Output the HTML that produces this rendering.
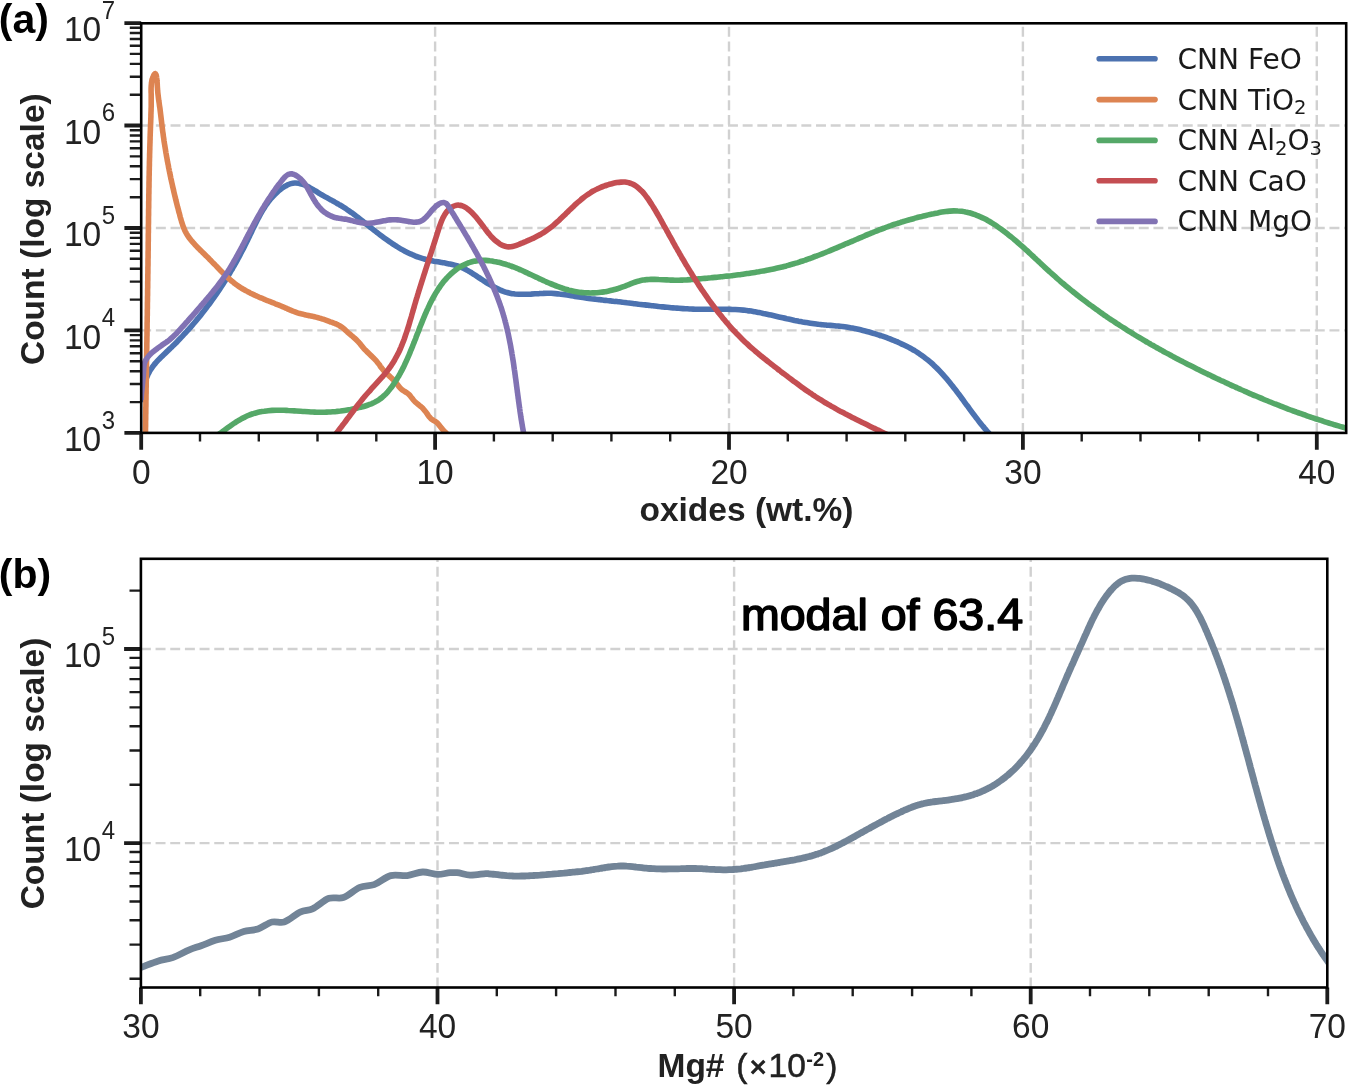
<!DOCTYPE html>
<html lang="en"><head><meta charset="utf-8"><title>Oxide abundance and Mg# histograms</title>
<style>html,body{margin:0;padding:0;background:#fff}svg{display:block}text{font-family:"Liberation Sans",sans-serif;fill:#222}.tk{font-size:33.5px}.sup{font-size:24px}.lab{font-size:33.5px;font-weight:bold}.leg{font-family:"DejaVu Sans","Liberation Sans",sans-serif;font-size:28.05px;fill:#1a1a1a}.pl{font-size:41px;font-weight:bold;fill:#000}</style></head><body>
<svg width="1350" height="1086" viewBox="0 0 1350 1086">
<rect width="1350" height="1086" fill="#fff"/>
<defs><clipPath id="ca"><rect x="141.2" y="23.3" width="1205" height="409.6"/></clipPath>
<clipPath id="cb"><rect x="140.9" y="558.8" width="1186.4" height="428.7"/></clipPath></defs>
<path d="M435.1 432.9 V23.3M729.0 432.9 V23.3M1022.9 432.9 V23.3M1316.8 432.9 V23.3M141.2 330.4 H1346.2M141.2 228.0 H1346.2M141.2 125.5 H1346.2" fill="none" stroke="#d1d1d1" stroke-width="2.4" stroke-dasharray="9.95 4.72"/>
<g clip-path="url(#ca)" fill="none" stroke-width="5.6" stroke-linejoin="round" stroke-linecap="butt">
<path d="M141.1 401.9C141.4 400.7 141.6 399.4 141.9 398.1C142.1 396.9 142.4 395.5 142.6 394.2C142.9 392.9 143.1 391.6 143.4 390.2C143.6 388.9 143.9 387.5 144.2 386.2C144.5 384.9 144.8 383.5 145.2 382.2C145.6 380.9 146.0 379.6 146.4 378.3C146.9 377.1 147.4 375.8 147.9 374.6C148.5 373.4 149.1 372.2 149.7 371.1C150.4 370.0 151.1 368.9 151.9 367.8C152.6 366.7 153.4 365.7 154.2 364.6C155.1 363.6 155.9 362.6 156.8 361.6C157.7 360.6 158.6 359.7 159.6 358.7C160.5 357.8 161.5 356.8 162.4 355.9C163.4 354.9 164.4 354.0 165.4 353.1C166.4 352.2 167.4 351.2 168.3 350.3C169.3 349.4 170.3 348.4 171.3 347.5C172.2 346.6 173.2 345.6 174.2 344.7C175.1 343.7 176.1 342.8 177.0 341.8C178.0 340.9 178.9 339.9 179.8 338.9C180.8 338.0 181.7 337.0 182.6 336.0C183.5 335.0 184.4 334.0 185.3 333.1C186.3 332.1 187.2 331.1 188.0 330.1C188.9 329.1 189.8 328.1 190.7 327.1C191.6 326.1 192.5 325.0 193.3 324.0C194.2 323.0 195.1 322.0 195.9 321.0C196.8 319.9 197.6 318.9 198.5 317.9C199.3 316.8 200.2 315.8 201.0 314.8C201.8 313.7 202.6 312.7 203.5 311.6C204.3 310.6 205.1 309.5 205.9 308.4C206.7 307.4 207.5 306.3 208.3 305.2C209.1 304.2 209.9 303.1 210.7 302.0C211.5 300.9 212.3 299.9 213.0 298.8C213.8 297.7 214.6 296.6 215.3 295.5C216.1 294.4 216.9 293.3 217.6 292.2C218.4 291.1 219.1 290.0 219.8 288.9C220.6 287.7 221.3 286.6 222.0 285.5C222.8 284.4 223.5 283.3 224.2 282.1C224.9 281.0 225.7 279.9 226.4 278.7C227.1 277.6 227.8 276.4 228.5 275.3C229.2 274.1 229.9 273.0 230.5 271.8C231.2 270.7 231.9 269.5 232.6 268.4C233.3 267.2 233.9 266.0 234.6 264.9C235.3 263.7 235.9 262.5 236.6 261.3C237.2 260.1 237.9 259.0 238.5 257.8C239.2 256.6 239.8 255.4 240.4 254.2C241.1 253.0 241.7 251.8 242.3 250.6C243.0 249.4 243.6 248.2 244.2 247.0C244.8 245.8 245.4 244.6 246.0 243.3C246.6 242.1 247.2 240.9 247.8 239.7C248.4 238.5 249.0 237.2 249.6 236.0C250.2 234.8 250.8 233.5 251.4 232.3C251.9 231.1 252.5 229.8 253.1 228.6C253.7 227.4 254.3 226.1 254.9 224.9C255.5 223.7 256.1 222.5 256.7 221.3C257.3 220.1 257.9 218.9 258.6 217.7C259.2 216.5 259.8 215.3 260.5 214.1C261.1 212.9 261.8 211.8 262.5 210.6C263.2 209.5 263.9 208.4 264.6 207.3C265.3 206.1 266.1 205.0 266.8 204.0C267.6 202.9 268.4 201.8 269.2 200.8C270.0 199.8 270.8 198.7 271.7 197.8C272.6 196.8 273.5 195.8 274.4 194.9C275.3 193.9 276.3 193.0 277.3 192.1C278.3 191.2 279.3 190.4 280.3 189.6C281.4 188.7 282.5 187.9 283.6 187.2C284.8 186.5 285.9 185.7 287.2 185.1C288.4 184.5 289.6 184.0 290.9 183.6C292.1 183.3 293.4 183.1 294.7 183.0C296.1 182.9 297.4 183.1 298.7 183.3C300.1 183.6 301.4 184.0 302.7 184.4C304.0 184.8 305.3 185.4 306.6 186.0C307.8 186.6 309.0 187.2 310.2 187.9C311.4 188.5 312.6 189.2 313.7 189.9C314.9 190.6 316.0 191.3 317.2 192.0C318.3 192.8 319.4 193.5 320.6 194.2C321.8 194.8 322.9 195.5 324.1 196.2C325.3 196.8 326.4 197.5 327.6 198.1C328.8 198.8 330.0 199.4 331.1 200.1C332.3 200.7 333.5 201.4 334.7 202.0C335.8 202.7 337.0 203.3 338.2 204.0C339.3 204.7 340.5 205.3 341.6 206.0C342.8 206.7 343.9 207.4 345.0 208.1C346.1 208.9 347.2 209.6 348.3 210.4C349.4 211.1 350.5 211.9 351.6 212.7C352.7 213.4 353.7 214.2 354.8 215.0C355.9 215.8 356.9 216.6 358.0 217.5C359.0 218.3 360.1 219.1 361.1 219.9C362.2 220.8 363.2 221.6 364.3 222.4C365.3 223.3 366.4 224.1 367.4 225.0C368.5 225.8 369.5 226.6 370.6 227.5C371.6 228.3 372.7 229.2 373.8 230.0C374.8 230.8 375.9 231.7 377.0 232.5C378.0 233.3 379.1 234.2 380.2 235.0C381.3 235.8 382.4 236.6 383.5 237.4C384.6 238.2 385.7 239.0 386.8 239.8C387.9 240.6 389.0 241.4 390.1 242.1C391.2 242.9 392.3 243.6 393.5 244.4C394.6 245.1 395.7 245.8 396.9 246.5C398.0 247.2 399.2 247.9 400.3 248.6C401.5 249.3 402.6 249.9 403.8 250.6C405.0 251.2 406.2 251.8 407.4 252.4C408.6 253.0 409.8 253.6 411.0 254.1C412.2 254.7 413.4 255.2 414.6 255.7C415.9 256.2 417.1 256.7 418.4 257.1C419.6 257.6 420.9 258.0 422.2 258.4C423.4 258.8 424.7 259.1 426.0 259.5C427.3 259.8 428.6 260.1 429.9 260.4C431.2 260.7 432.6 260.9 433.9 261.2C435.2 261.4 436.6 261.6 437.9 261.8C439.2 262.1 440.6 262.3 441.9 262.5C443.2 262.7 444.6 263.0 445.9 263.2C447.2 263.5 448.5 263.7 449.9 264.0C451.2 264.3 452.5 264.6 453.7 264.9C455.0 265.3 456.3 265.6 457.6 266.0C458.8 266.4 460.0 266.9 461.3 267.4C462.5 267.9 463.7 268.4 464.8 269.0C466.0 269.6 467.2 270.3 468.3 270.9C469.5 271.6 470.6 272.3 471.8 273.0C472.9 273.7 474.0 274.5 475.2 275.2C476.3 275.9 477.5 276.7 478.6 277.5C479.8 278.2 480.9 279.0 482.0 279.7C483.2 280.5 484.4 281.2 485.5 282.0C486.7 282.7 487.8 283.4 489.0 284.2C490.2 284.9 491.4 285.6 492.6 286.2C493.7 286.9 494.9 287.5 496.1 288.1C497.3 288.7 498.5 289.3 499.8 289.9C501.0 290.4 502.2 290.9 503.4 291.3C504.7 291.8 505.9 292.2 507.2 292.5C508.5 292.9 509.7 293.2 511.0 293.4C512.3 293.7 513.6 293.8 514.9 294.0C516.2 294.1 517.5 294.2 518.9 294.3C520.2 294.3 521.5 294.3 522.8 294.3C524.2 294.3 525.5 294.3 526.9 294.3C528.2 294.2 529.6 294.1 530.9 294.1C532.3 294.0 533.7 293.9 535.0 293.8C536.4 293.7 537.7 293.6 539.1 293.6C540.5 293.5 541.8 293.4 543.2 293.4C544.5 293.3 545.9 293.3 547.2 293.3C548.6 293.3 549.9 293.3 551.3 293.3C552.6 293.4 553.9 293.5 555.3 293.6C556.6 293.7 557.9 293.8 559.3 294.0C560.6 294.1 561.9 294.3 563.2 294.5C564.6 294.7 565.9 294.9 567.2 295.1C568.5 295.3 569.8 295.5 571.2 295.7C572.5 295.9 573.8 296.1 575.1 296.4C576.4 296.6 577.7 296.8 579.1 297.0C580.4 297.2 581.7 297.4 583.0 297.6C584.4 297.8 585.7 298.0 587.0 298.2C588.4 298.3 589.7 298.5 591.0 298.7C592.4 298.8 593.7 299.0 595.0 299.1C596.4 299.3 597.7 299.5 599.1 299.6C600.4 299.8 601.7 299.9 603.1 300.1C604.4 300.2 605.7 300.3 607.1 300.5C608.4 300.6 609.7 300.8 611.1 300.9C612.4 301.1 613.7 301.2 615.1 301.4C616.4 301.5 617.7 301.7 619.1 301.8C620.4 302.0 621.7 302.1 623.0 302.3C624.4 302.4 625.7 302.6 627.0 302.8C628.4 302.9 629.7 303.1 631.0 303.2C632.4 303.4 633.7 303.5 635.0 303.7C636.3 303.9 637.7 304.0 639.0 304.2C640.3 304.3 641.7 304.5 643.0 304.7C644.3 304.8 645.7 305.0 647.0 305.1C648.3 305.3 649.7 305.4 651.0 305.6C652.3 305.7 653.7 305.9 655.0 306.0C656.3 306.2 657.7 306.3 659.0 306.5C660.3 306.6 661.7 306.8 663.0 306.9C664.3 307.0 665.7 307.2 667.0 307.3C668.3 307.4 669.7 307.5 671.0 307.7C672.3 307.8 673.7 307.9 675.0 308.0C676.3 308.1 677.7 308.2 679.0 308.3C680.4 308.4 681.7 308.5 683.0 308.6C684.4 308.7 685.7 308.8 687.0 308.8C688.4 308.9 689.7 309.0 691.1 309.0C692.4 309.1 693.7 309.1 695.1 309.2C696.4 309.2 697.8 309.2 699.1 309.3C700.4 309.3 701.8 309.3 703.1 309.3C704.5 309.3 705.8 309.3 707.2 309.3C708.5 309.3 709.8 309.3 711.2 309.3C712.5 309.3 713.9 309.3 715.2 309.3C716.6 309.3 717.9 309.2 719.3 309.2C720.6 309.2 721.9 309.2 723.3 309.3C724.6 309.3 726.0 309.3 727.3 309.3C728.6 309.3 730.0 309.3 731.3 309.4C732.7 309.4 734.0 309.5 735.3 309.5C736.7 309.6 738.0 309.7 739.3 309.8C740.7 309.9 742.0 310.0 743.3 310.1C744.7 310.3 746.0 310.4 747.3 310.6C748.7 310.7 750.0 310.9 751.3 311.1C752.6 311.3 754.0 311.6 755.3 311.8C756.6 312.0 757.9 312.3 759.2 312.5C760.6 312.8 761.9 313.1 763.2 313.4C764.5 313.6 765.8 313.9 767.1 314.2C768.4 314.5 769.8 314.8 771.1 315.1C772.4 315.4 773.7 315.7 775.0 316.0C776.3 316.3 777.6 316.6 778.9 316.9C780.2 317.2 781.5 317.5 782.8 317.8C784.2 318.1 785.5 318.4 786.8 318.7C788.1 318.9 789.4 319.2 790.7 319.5C792.0 319.8 793.3 320.1 794.6 320.4C795.9 320.6 797.2 320.9 798.6 321.2C799.9 321.4 801.2 321.7 802.5 321.9C803.8 322.1 805.1 322.4 806.5 322.6C807.8 322.8 809.1 323.0 810.4 323.2C811.7 323.4 813.1 323.6 814.4 323.8C815.7 324.0 817.1 324.1 818.4 324.3C819.7 324.4 821.1 324.6 822.4 324.7C823.7 324.8 825.1 324.9 826.4 325.1C827.8 325.2 829.1 325.3 830.5 325.4C831.8 325.5 833.1 325.6 834.5 325.7C835.8 325.9 837.2 326.0 838.5 326.1C839.8 326.3 841.2 326.4 842.5 326.5C843.8 326.7 845.2 326.9 846.5 327.1C847.8 327.3 849.1 327.5 850.4 327.7C851.7 327.9 853.1 328.2 854.4 328.4C855.7 328.7 857.0 329.0 858.3 329.3C859.6 329.6 860.9 329.9 862.1 330.2C863.4 330.5 864.7 330.9 866.0 331.2C867.3 331.6 868.6 331.9 869.9 332.3C871.2 332.7 872.5 333.1 873.8 333.4C875.1 333.8 876.4 334.2 877.6 334.6C878.9 335.0 880.2 335.5 881.5 335.9C882.8 336.3 884.1 336.8 885.3 337.2C886.6 337.7 887.9 338.1 889.2 338.6C890.4 339.1 891.7 339.6 892.9 340.1C894.2 340.6 895.4 341.1 896.7 341.6C897.9 342.2 899.2 342.7 900.4 343.3C901.6 343.8 902.8 344.4 904.0 345.0C905.2 345.6 906.4 346.2 907.6 346.8C908.8 347.4 910.0 348.1 911.2 348.7C912.3 349.4 913.5 350.0 914.6 350.7C915.8 351.4 916.9 352.1 918.0 352.8C919.1 353.6 920.2 354.3 921.3 355.1C922.4 355.8 923.5 356.6 924.5 357.4C925.6 358.2 926.6 359.0 927.7 359.9C928.7 360.7 929.7 361.6 930.7 362.4C931.7 363.3 932.7 364.2 933.6 365.1C934.6 366.0 935.6 366.9 936.5 367.9C937.5 368.8 938.4 369.8 939.3 370.7C940.2 371.7 941.1 372.7 942.0 373.7C943.0 374.6 943.8 375.6 944.7 376.7C945.6 377.7 946.5 378.7 947.4 379.7C948.2 380.7 949.1 381.8 949.9 382.8C950.8 383.9 951.6 384.9 952.5 386.0C953.3 387.1 954.1 388.1 955.0 389.2C955.8 390.3 956.6 391.4 957.4 392.4C958.2 393.5 959.1 394.6 959.9 395.7C960.7 396.8 961.5 397.9 962.3 399.0C963.1 400.1 963.9 401.2 964.7 402.3C965.5 403.4 966.3 404.5 967.1 405.6C967.9 406.6 968.7 407.7 969.5 408.8C970.3 409.9 971.1 411.0 971.9 412.1C972.7 413.2 973.5 414.3 974.4 415.3C975.2 416.4 976.0 417.5 976.8 418.6C977.6 419.6 978.4 420.7 979.2 421.7C980.1 422.8 980.9 423.8 981.7 424.9C982.6 425.9 983.4 426.9 984.3 427.9C985.1 428.9 986.0 429.9 986.8 430.9C987.7 431.9 988.5 432.9 989.4 433.9C990.3 434.8 991.2 435.8 992.1 436.7" stroke="#4c72b0"/>
<path d="M145.4 436.0C145.4 435.2 145.4 434.3 145.5 433.5C145.5 432.7 145.5 431.8 145.5 431.0C145.5 430.1 145.5 429.3 145.5 428.5C145.5 427.6 145.6 426.8 145.6 425.9C145.6 425.1 145.6 424.3 145.6 423.4C145.6 422.6 145.6 421.8 145.6 420.9C145.7 420.1 145.7 419.2 145.7 418.4C145.7 417.6 145.7 416.7 145.7 415.9C145.7 415.1 145.7 414.2 145.8 413.4C145.8 412.5 145.8 411.7 145.8 410.9C145.8 410.0 145.8 409.2 145.8 408.4C145.8 407.5 145.9 406.7 145.9 405.8C145.9 405.0 145.9 404.2 145.9 403.3C145.9 402.5 145.9 401.6 145.9 400.8C146.0 400.0 146.0 399.1 146.0 398.3C146.0 397.5 146.0 396.6 146.0 395.8C146.0 394.9 146.0 394.1 146.1 393.3C146.1 392.4 146.1 391.6 146.1 390.8C146.1 389.9 146.1 389.1 146.1 388.2C146.2 387.4 146.2 386.6 146.2 385.7C146.2 384.9 146.2 384.1 146.2 383.2C146.2 382.4 146.2 381.5 146.3 380.7C146.3 379.9 146.3 379.0 146.3 378.2C146.3 377.4 146.3 376.5 146.3 375.7C146.3 374.9 146.4 374.0 146.4 373.2C146.4 372.3 146.4 371.5 146.4 370.7C146.4 369.8 146.4 369.0 146.5 368.2C146.5 367.3 146.5 366.5 146.5 365.6C146.5 364.8 146.5 364.0 146.5 363.1C146.5 362.3 146.6 361.5 146.6 360.6C146.6 359.8 146.6 358.9 146.6 358.1C146.6 357.3 146.6 356.4 146.6 355.6C146.7 354.8 146.7 353.9 146.7 353.1C146.7 352.2 146.7 351.4 146.7 350.6C146.7 349.7 146.7 348.9 146.8 348.1C146.8 347.2 146.8 346.4 146.8 345.5C146.8 344.7 146.8 343.9 146.8 343.0C146.9 342.2 146.9 341.4 146.9 340.5C146.9 339.7 146.9 338.9 146.9 338.0C146.9 337.2 146.9 336.3 147.0 335.5C147.0 334.7 147.0 333.8 147.0 333.0C147.0 332.2 147.0 331.3 147.0 330.5C147.0 329.6 147.1 328.8 147.1 328.0C147.1 327.1 147.1 326.3 147.1 325.5C147.1 324.6 147.1 323.8 147.1 322.9C147.2 322.1 147.2 321.3 147.2 320.4C147.2 319.6 147.2 318.8 147.2 317.9C147.2 317.1 147.2 316.2 147.3 315.4C147.3 314.6 147.3 313.7 147.3 312.9C147.3 312.1 147.3 311.2 147.3 310.4C147.3 309.5 147.4 308.7 147.4 307.9C147.4 307.0 147.4 306.2 147.4 305.4C147.4 304.5 147.4 303.7 147.4 302.9C147.5 302.0 147.5 301.2 147.5 300.3C147.5 299.5 147.5 298.7 147.5 297.8C147.5 297.0 147.5 296.2 147.6 295.3C147.6 294.5 147.6 293.6 147.6 292.8C147.6 292.0 147.6 291.1 147.6 290.3C147.6 289.5 147.6 288.6 147.7 287.8C147.7 286.9 147.7 286.1 147.7 285.3C147.7 284.4 147.7 283.6 147.7 282.8C147.7 281.9 147.7 281.1 147.8 280.2C147.8 279.4 147.8 278.6 147.8 277.7C147.8 276.9 147.8 276.1 147.8 275.2C147.8 274.4 147.9 273.5 147.9 272.7C147.9 271.9 147.9 271.0 147.9 270.2C147.9 269.3 147.9 268.5 147.9 267.7C147.9 266.8 148.0 266.0 148.0 265.2C148.0 264.3 148.0 263.5 148.0 262.6C148.0 261.8 148.0 261.0 148.0 260.1C148.0 259.3 148.0 258.5 148.1 257.6C148.1 256.8 148.1 255.9 148.1 255.1C148.1 254.3 148.1 253.4 148.1 252.6C148.1 251.8 148.1 250.9 148.2 250.1C148.2 249.2 148.2 248.4 148.2 247.6C148.2 246.7 148.2 245.9 148.2 245.0C148.2 244.2 148.2 243.4 148.2 242.5C148.3 241.7 148.3 240.9 148.3 240.0C148.3 239.2 148.3 238.3 148.3 237.5C148.3 236.7 148.3 235.8 148.3 235.0C148.3 234.1 148.3 233.3 148.4 232.5C148.4 231.6 148.4 230.8 148.4 230.0C148.4 229.1 148.4 228.3 148.4 227.4C148.4 226.6 148.4 225.8 148.4 224.9C148.5 224.1 148.5 223.2 148.5 222.4C148.5 221.6 148.5 220.7 148.5 219.9C148.5 219.0 148.5 218.2 148.5 217.4C148.5 216.5 148.6 215.7 148.6 214.9C148.6 214.0 148.6 213.2 148.6 212.3C148.6 211.5 148.6 210.7 148.6 209.8C148.6 209.0 148.7 208.1 148.7 207.3C148.7 206.5 148.7 205.6 148.7 204.8C148.7 204.0 148.7 203.1 148.7 202.3C148.7 201.4 148.8 200.6 148.8 199.8C148.8 198.9 148.8 198.1 148.8 197.2C148.8 196.4 148.8 195.6 148.8 194.7C148.9 193.9 148.9 193.1 148.9 192.2C148.9 191.4 148.9 190.5 148.9 189.7C148.9 188.9 148.9 188.0 149.0 187.2C149.0 186.4 149.0 185.5 149.0 184.7C149.0 183.8 149.0 183.0 149.0 182.2C149.1 181.3 149.1 180.5 149.1 179.7C149.1 178.8 149.1 178.0 149.1 177.1C149.1 176.3 149.2 175.5 149.2 174.6C149.2 173.8 149.2 173.0 149.2 172.1C149.2 171.3 149.3 170.4 149.3 169.6C149.3 168.8 149.3 167.9 149.3 167.1C149.4 166.3 149.4 165.4 149.4 164.6C149.4 163.8 149.4 162.9 149.4 162.1C149.5 161.2 149.5 160.4 149.5 159.6C149.5 158.7 149.5 157.9 149.6 157.1C149.6 156.2 149.6 155.4 149.6 154.6C149.6 153.7 149.7 152.9 149.7 152.1C149.7 151.2 149.7 150.4 149.8 149.5C149.8 148.7 149.8 147.9 149.8 147.0C149.9 146.2 149.9 145.4 149.9 144.5C149.9 143.7 150.0 142.9 150.0 142.0C150.0 141.2 150.0 140.4 150.1 139.5C150.1 138.7 150.1 137.9 150.1 137.0C150.2 136.2 150.2 135.4 150.2 134.5C150.2 133.7 150.3 132.9 150.3 132.0C150.3 131.2 150.4 130.4 150.4 129.5C150.4 128.7 150.4 127.9 150.5 127.0C150.5 126.2 150.5 125.4 150.6 124.5C150.6 123.7 150.6 122.9 150.7 122.0C150.7 121.2 150.7 120.4 150.8 119.5C150.8 118.7 150.8 117.9 150.9 117.0C150.9 116.2 150.9 115.4 150.9 114.5C151.0 113.7 151.0 112.9 151.0 112.0C151.1 111.2 151.1 110.4 151.1 109.5C151.1 108.7 151.1 107.8 151.2 107.0C151.2 106.2 151.2 105.3 151.2 104.5C151.2 103.6 151.2 102.8 151.2 101.9C151.2 101.1 151.2 100.2 151.2 99.4C151.2 98.5 151.2 97.7 151.2 96.8C151.2 96.0 151.2 95.1 151.2 94.3C151.2 93.4 151.1 92.5 151.1 91.7C151.1 90.8 151.1 90.0 151.1 89.1C151.1 88.3 151.1 87.4 151.2 86.6C151.2 85.7 151.3 84.9 151.4 84.0C151.4 83.2 151.5 82.4 151.7 81.5C151.8 80.7 152.0 79.9 152.3 79.1C152.5 78.3 152.7 77.5 153.1 76.7C153.4 76.0 153.7 75.1 154.2 74.5C154.5 74.1 155.0 73.5 155.3 73.6C155.7 73.6 155.9 74.6 156.2 75.2C156.4 76.0 156.6 77.1 156.7 78.0C156.9 78.9 157.0 79.8 157.0 80.7C157.1 81.6 157.2 82.5 157.2 83.3C157.3 84.2 157.3 85.0 157.3 85.8C157.4 86.7 157.4 87.5 157.5 88.3C157.5 89.2 157.6 90.0 157.7 90.8C157.7 91.7 157.8 92.5 157.9 93.3C158.0 94.1 158.1 95.0 158.2 95.8C158.3 96.6 158.4 97.5 158.5 98.3C158.6 99.1 158.7 99.9 158.8 100.8C159.0 101.6 159.1 102.4 159.2 103.3C159.3 104.1 159.4 104.9 159.5 105.7C159.6 106.6 159.8 107.4 159.9 108.2C160.0 109.1 160.1 109.9 160.2 110.7C160.3 111.6 160.4 112.4 160.5 113.2C160.6 114.0 160.7 114.9 160.8 115.7C160.9 116.6 161.0 117.4 161.1 118.2C161.2 119.1 161.3 119.9 161.4 120.7C161.5 121.6 161.6 122.4 161.7 123.2C161.8 124.1 161.9 124.9 162.0 125.7C162.1 126.6 162.2 127.4 162.3 128.2C162.4 129.1 162.5 129.9 162.6 130.7C162.7 131.6 162.8 132.4 163.0 133.2C163.1 134.0 163.2 134.9 163.3 135.7C163.4 136.5 163.5 137.4 163.7 138.2C163.8 139.0 163.9 139.9 164.0 140.7C164.2 141.5 164.3 142.3 164.4 143.2C164.5 144.0 164.7 144.8 164.8 145.6C164.9 146.5 165.1 147.3 165.2 148.1C165.3 148.9 165.5 149.8 165.6 150.6C165.7 151.4 165.9 152.2 166.0 153.1C166.2 153.9 166.3 154.7 166.4 155.5C166.6 156.4 166.7 157.2 166.9 158.0C167.0 158.8 167.2 159.7 167.3 160.5C167.5 161.3 167.6 162.1 167.8 163.0C167.9 163.8 168.1 164.6 168.3 165.4C168.4 166.2 168.6 167.1 168.7 167.9C168.9 168.7 169.1 169.5 169.2 170.3C169.4 171.2 169.6 172.0 169.7 172.8C169.9 173.6 170.1 174.4 170.2 175.3C170.4 176.1 170.6 176.9 170.7 177.7C170.9 178.5 171.1 179.3 171.3 180.2C171.4 181.0 171.6 181.8 171.8 182.6C172.0 183.4 172.2 184.3 172.4 185.1C172.5 185.9 172.7 186.7 172.9 187.5C173.1 188.3 173.3 189.2 173.5 190.0C173.7 190.8 173.8 191.6 174.0 192.4C174.2 193.2 174.4 194.1 174.6 194.9C174.8 195.7 175.0 196.5 175.2 197.3C175.4 198.1 175.6 198.9 175.8 199.8C176.0 200.6 176.2 201.4 176.4 202.2C176.6 203.0 176.8 203.8 177.0 204.6C177.2 205.5 177.4 206.3 177.6 207.1C177.9 207.9 178.1 208.7 178.3 209.5C178.5 210.3 178.7 211.2 178.9 212.0C179.1 212.8 179.4 213.6 179.6 214.4C179.8 215.2 180.0 216.0 180.2 216.9C180.4 217.7 180.7 218.5 180.9 219.3C181.1 220.1 181.4 220.9 181.6 221.7C181.9 222.5 182.1 223.3 182.4 224.1C182.6 224.9 182.9 225.7 183.2 226.5C183.5 227.3 183.8 228.0 184.1 228.8C184.4 229.6 184.8 230.3 185.1 231.1C185.5 231.8 185.9 232.5 186.3 233.3C186.7 234.0 187.1 234.7 187.5 235.4C188.0 236.1 188.5 236.8 189.0 237.5C189.5 238.2 190.0 238.8 190.5 239.5C191.0 240.1 191.6 240.8 192.1 241.4C192.7 242.1 193.2 242.7 193.8 243.3C194.3 243.9 194.9 244.6 195.5 245.2C196.1 245.8 196.6 246.4 197.2 247.0C197.8 247.6 198.4 248.2 199.0 248.8C199.6 249.4 200.2 250.0 200.7 250.6C201.3 251.2 201.9 251.8 202.5 252.3C203.1 252.9 203.7 253.5 204.3 254.1C204.9 254.7 205.5 255.3 206.1 255.9C206.7 256.4 207.3 257.0 207.9 257.6C208.5 258.2 209.1 258.8 209.7 259.4C210.3 260.0 210.9 260.6 211.5 261.2C212.0 261.8 212.6 262.4 213.2 263.0C213.8 263.6 214.4 264.2 215.0 264.8C215.5 265.4 216.1 266.0 216.7 266.6C217.3 267.2 217.9 267.8 218.5 268.4C219.0 269.0 219.6 269.6 220.2 270.2C220.8 270.8 221.4 271.4 222.0 272.0C222.6 272.6 223.2 273.2 223.8 273.8C224.4 274.3 225.0 274.9 225.6 275.5C226.2 276.1 226.8 276.7 227.4 277.2C228.0 277.8 228.6 278.4 229.3 278.9C229.9 279.5 230.5 280.0 231.1 280.6C231.8 281.1 232.4 281.6 233.1 282.2C233.7 282.7 234.4 283.2 235.0 283.7C235.7 284.2 236.4 284.7 237.1 285.2C237.7 285.7 238.4 286.1 239.1 286.6C239.8 287.1 240.5 287.5 241.2 288.0C241.9 288.4 242.6 288.8 243.4 289.3C244.1 289.7 244.8 290.1 245.5 290.5C246.3 290.9 247.0 291.3 247.8 291.7C248.5 292.1 249.3 292.5 250.0 292.9C250.8 293.3 251.5 293.6 252.3 294.0C253.0 294.4 253.8 294.7 254.6 295.1C255.3 295.4 256.1 295.8 256.9 296.1C257.6 296.5 258.4 296.8 259.2 297.2C259.9 297.5 260.7 297.8 261.5 298.1C262.3 298.5 263.0 298.8 263.8 299.1C264.6 299.4 265.4 299.8 266.1 300.1C266.9 300.4 267.7 300.7 268.5 301.0C269.2 301.3 270.0 301.6 270.8 301.9C271.6 302.2 272.3 302.5 273.1 302.8C273.9 303.2 274.7 303.5 275.4 303.8C276.2 304.1 277.0 304.4 277.7 304.7C278.5 305.0 279.3 305.3 280.1 305.6C280.8 306.0 281.6 306.3 282.4 306.6C283.1 306.9 283.9 307.2 284.7 307.6C285.5 307.9 286.2 308.2 287.0 308.6C287.8 308.9 288.5 309.3 289.3 309.6C290.1 309.9 290.8 310.3 291.6 310.6C292.4 310.9 293.2 311.2 294.0 311.5C294.7 311.8 295.5 312.1 296.3 312.4C297.1 312.7 297.9 312.9 298.7 313.2C299.5 313.4 300.3 313.6 301.1 313.8C302.0 314.0 302.8 314.2 303.6 314.4C304.4 314.6 305.2 314.8 306.0 315.0C306.9 315.1 307.7 315.3 308.5 315.5C309.3 315.7 310.2 315.8 311.0 316.0C311.8 316.2 312.6 316.4 313.4 316.5C314.3 316.7 315.1 316.9 315.9 317.1C316.7 317.3 317.5 317.5 318.3 317.7C319.1 317.9 319.9 318.2 320.7 318.4C321.5 318.7 322.3 318.9 323.1 319.2C323.9 319.5 324.7 319.8 325.5 320.0C326.2 320.3 327.0 320.6 327.8 320.9C328.6 321.2 329.4 321.5 330.2 321.8C331.0 322.1 331.8 322.3 332.6 322.6C333.4 322.9 334.2 323.2 335.0 323.5C335.7 323.9 336.5 324.2 337.3 324.5C338.0 324.9 338.8 325.3 339.5 325.7C340.2 326.1 340.9 326.5 341.6 327.0C342.3 327.5 342.9 328.0 343.6 328.5C344.2 329.1 344.8 329.7 345.5 330.2C346.1 330.8 346.7 331.4 347.3 331.9C347.9 332.5 348.6 333.1 349.2 333.6C349.8 334.2 350.5 334.7 351.1 335.3C351.8 335.8 352.4 336.3 353.1 336.9C353.7 337.4 354.3 337.9 355.0 338.5C355.6 339.1 356.2 339.6 356.8 340.2C357.4 340.8 358.0 341.4 358.5 342.0C359.1 342.6 359.6 343.3 360.1 343.9C360.7 344.6 361.2 345.2 361.7 345.9C362.2 346.5 362.8 347.2 363.3 347.8C363.9 348.5 364.4 349.1 365.0 349.7C365.6 350.3 366.2 350.9 366.8 351.5C367.4 352.1 368.0 352.6 368.6 353.2C369.2 353.8 369.8 354.4 370.4 355.0C371.0 355.6 371.6 356.1 372.2 356.7C372.8 357.3 373.4 357.9 374.0 358.5C374.6 359.1 375.1 359.7 375.7 360.3C376.3 361.0 376.8 361.6 377.3 362.2C377.9 362.9 378.4 363.6 378.9 364.2C379.4 364.9 379.9 365.6 380.3 366.3C380.8 367.0 381.3 367.6 381.8 368.3C382.4 369.0 382.9 369.6 383.4 370.2C384.0 370.9 384.6 371.5 385.1 372.1C385.7 372.7 386.3 373.3 386.9 373.8C387.5 374.4 388.2 375.0 388.8 375.5C389.4 376.1 390.0 376.7 390.7 377.2C391.3 377.8 391.9 378.4 392.5 379.0C393.1 379.5 393.7 380.1 394.3 380.7C394.8 381.3 395.4 382.0 395.9 382.6C396.5 383.3 397.0 383.9 397.5 384.6C398.0 385.3 398.5 386.0 399.0 386.6C399.6 387.3 400.1 387.9 400.7 388.5C401.3 389.1 401.9 389.6 402.6 390.1C403.2 390.6 404.0 391.0 404.7 391.5C405.4 391.9 406.2 392.3 406.8 392.8C407.5 393.3 408.2 393.8 408.8 394.3C409.4 394.9 410.0 395.5 410.5 396.2C411.0 396.8 411.5 397.5 412.0 398.2C412.5 398.9 413.0 399.5 413.6 400.2C414.1 400.8 414.7 401.4 415.3 402.0C415.9 402.6 416.6 403.1 417.2 403.6C417.9 404.2 418.5 404.7 419.2 405.2C419.9 405.7 420.5 406.2 421.1 406.8C421.8 407.3 422.4 407.9 422.9 408.5C423.5 409.1 424.0 409.8 424.6 410.4C425.1 411.1 425.6 411.7 426.1 412.4C426.6 413.1 427.1 413.8 427.6 414.5C428.1 415.2 428.5 415.9 429.1 416.6C429.6 417.2 430.1 417.9 430.7 418.4C431.3 419.0 432.0 419.5 432.7 419.9C433.4 420.4 434.2 420.7 434.9 421.1C435.6 421.6 436.3 422.0 436.9 422.6C437.5 423.1 438.0 423.8 438.6 424.4C439.1 425.0 439.6 425.7 440.1 426.4C440.6 427.1 441.2 427.7 441.7 428.4C442.2 429.0 442.8 429.6 443.4 430.3C443.9 430.9 444.5 431.5 445.1 432.1C445.7 432.7 446.3 433.3 446.9 433.8C447.5 434.4 448.1 435.0 448.7 435.6C449.3 436.2 449.9 436.8 450.5 437.4C451.1 438.0 451.7 438.6 452.2 439.2C452.8 439.8 453.4 440.4 453.9 441.0C454.4 441.7 455.0 442.4 455.5 443.0" stroke="#dd8452"/>
<path d="M215.1 437.0C216.1 436.3 217.2 435.5 218.2 434.8C219.3 434.0 220.3 433.2 221.4 432.4C222.5 431.6 223.6 430.8 224.7 430.0C225.8 429.2 226.9 428.4 228.0 427.6C229.1 426.8 230.2 426.0 231.3 425.2C232.5 424.4 233.6 423.6 234.8 422.9C235.9 422.1 237.1 421.4 238.3 420.7C239.4 420.0 240.6 419.3 241.8 418.6C243.0 418.0 244.2 417.3 245.4 416.8C246.6 416.2 247.8 415.6 249.1 415.1C250.3 414.6 251.5 414.2 252.8 413.8C254.0 413.4 255.3 413.0 256.6 412.7C257.8 412.4 259.1 412.1 260.4 411.8C261.7 411.6 263.0 411.3 264.3 411.2C265.6 411.0 266.9 410.8 268.2 410.7C269.5 410.6 270.8 410.5 272.1 410.4C273.5 410.3 274.8 410.3 276.1 410.3C277.5 410.2 278.8 410.2 280.1 410.2C281.5 410.2 282.8 410.3 284.2 410.3C285.5 410.4 286.9 410.4 288.2 410.5C289.6 410.5 290.9 410.6 292.3 410.7C293.6 410.8 295.0 410.9 296.3 411.0C297.7 411.1 299.1 411.2 300.4 411.3C301.8 411.4 303.1 411.5 304.5 411.5C305.8 411.6 307.2 411.7 308.6 411.8C309.9 411.9 311.3 412.0 312.6 412.0C314.0 412.1 315.3 412.1 316.7 412.2C318.0 412.2 319.4 412.2 320.7 412.2C322.0 412.2 323.4 412.2 324.7 412.2C326.0 412.1 327.4 412.1 328.7 412.0C330.0 412.0 331.4 411.9 332.7 411.8C334.0 411.7 335.3 411.6 336.7 411.4C338.0 411.3 339.3 411.1 340.6 411.0C341.9 410.8 343.3 410.6 344.6 410.4C345.9 410.2 347.2 410.0 348.6 409.8C349.9 409.6 351.2 409.3 352.6 409.0C353.9 408.8 355.2 408.5 356.6 408.2C357.9 407.9 359.2 407.6 360.6 407.3C361.9 406.9 363.2 406.6 364.5 406.2C365.9 405.8 367.2 405.4 368.4 404.9C369.7 404.4 371.0 404.0 372.2 403.4C373.4 402.9 374.6 402.3 375.8 401.6C377.0 401.0 378.1 400.3 379.2 399.6C380.3 398.8 381.3 398.0 382.3 397.2C383.4 396.3 384.3 395.4 385.3 394.5C386.2 393.6 387.1 392.6 388.0 391.6C388.9 390.5 389.7 389.5 390.5 388.4C391.4 387.4 392.2 386.3 392.9 385.2C393.7 384.1 394.5 382.9 395.2 381.8C395.9 380.7 396.6 379.5 397.3 378.4C398.0 377.2 398.7 376.1 399.3 374.9C400.0 373.8 400.6 372.6 401.3 371.4C401.9 370.2 402.5 369.0 403.1 367.9C403.7 366.7 404.3 365.5 404.8 364.3C405.4 363.1 406.0 361.9 406.5 360.7C407.1 359.4 407.6 358.2 408.1 357.0C408.7 355.8 409.2 354.6 409.7 353.3C410.2 352.1 410.7 350.9 411.2 349.6C411.7 348.4 412.2 347.2 412.7 345.9C413.2 344.7 413.7 343.4 414.2 342.2C414.7 340.9 415.2 339.7 415.7 338.4C416.1 337.2 416.6 335.9 417.1 334.7C417.6 333.4 418.1 332.2 418.6 330.9C419.1 329.6 419.5 328.4 420.0 327.1C420.5 325.9 421.0 324.6 421.5 323.4C422.0 322.1 422.5 320.8 423.0 319.6C423.6 318.3 424.1 317.1 424.6 315.8C425.1 314.6 425.7 313.3 426.2 312.1C426.8 310.8 427.3 309.6 427.9 308.3C428.4 307.1 429.0 305.9 429.6 304.6C430.2 303.4 430.8 302.2 431.4 301.0C432.0 299.8 432.7 298.5 433.3 297.4C434.0 296.2 434.6 295.0 435.3 293.8C436.0 292.7 436.7 291.5 437.4 290.4C438.2 289.2 438.9 288.1 439.7 287.0C440.4 285.9 441.2 284.8 442.0 283.8C442.8 282.7 443.6 281.7 444.5 280.6C445.4 279.6 446.2 278.6 447.1 277.7C448.0 276.7 449.0 275.8 449.9 274.8C450.9 273.9 451.9 273.0 452.9 272.2C453.9 271.3 454.9 270.5 456.0 269.7C457.0 268.9 458.1 268.2 459.2 267.5C460.3 266.8 461.5 266.1 462.6 265.5C463.8 264.9 465.0 264.3 466.2 263.8C467.4 263.3 468.6 262.8 469.9 262.4C471.1 262.0 472.4 261.6 473.7 261.3C474.9 261.1 476.3 260.8 477.6 260.7C478.9 260.5 480.2 260.4 481.6 260.3C483.0 260.3 484.3 260.3 485.7 260.4C487.1 260.5 488.5 260.6 489.8 260.8C491.2 260.9 492.6 261.1 493.9 261.4C495.3 261.6 496.7 261.9 498.0 262.2C499.3 262.5 500.7 262.8 502.0 263.2C503.3 263.5 504.6 263.9 505.9 264.3C507.1 264.7 508.4 265.1 509.7 265.6C510.9 266.0 512.2 266.5 513.4 266.9C514.7 267.4 515.9 267.9 517.1 268.4C518.4 268.9 519.6 269.5 520.8 270.0C522.0 270.5 523.2 271.1 524.4 271.6C525.6 272.1 526.8 272.7 528.0 273.3C529.2 273.8 530.4 274.4 531.7 275.0C532.9 275.5 534.1 276.1 535.3 276.7C536.5 277.3 537.7 277.8 538.9 278.4C540.1 279.0 541.3 279.5 542.5 280.1C543.8 280.7 545.0 281.2 546.2 281.8C547.4 282.3 548.6 282.9 549.9 283.4C551.1 283.9 552.3 284.4 553.6 284.9C554.8 285.4 556.0 285.9 557.3 286.4C558.5 286.9 559.8 287.3 561.1 287.7C562.3 288.2 563.6 288.6 564.8 289.0C566.1 289.4 567.4 289.7 568.7 290.1C570.0 290.4 571.2 290.7 572.5 291.0C573.8 291.3 575.1 291.6 576.4 291.8C577.8 292.0 579.1 292.2 580.4 292.4C581.7 292.5 583.1 292.7 584.4 292.8C585.7 292.9 587.1 292.9 588.4 292.9C589.8 293.0 591.1 293.0 592.5 292.9C593.9 292.9 595.2 292.8 596.6 292.7C597.9 292.6 599.3 292.5 600.6 292.3C602.0 292.2 603.3 292.0 604.7 291.8C606.0 291.5 607.4 291.3 608.7 291.0C610.1 290.7 611.4 290.4 612.7 290.1C614.0 289.7 615.3 289.4 616.6 289.0C617.9 288.6 619.2 288.1 620.5 287.7C621.8 287.2 623.1 286.7 624.3 286.3C625.6 285.8 626.8 285.3 628.1 284.8C629.3 284.3 630.6 283.8 631.8 283.3C633.0 282.8 634.3 282.4 635.5 282.0C636.8 281.6 638.0 281.2 639.3 280.9C640.6 280.6 641.8 280.3 643.1 280.1C644.4 279.9 645.7 279.8 647.0 279.6C648.3 279.5 649.6 279.5 650.9 279.4C652.2 279.4 653.5 279.4 654.8 279.4C656.2 279.4 657.5 279.4 658.8 279.5C660.2 279.5 661.5 279.6 662.8 279.7C664.2 279.7 665.5 279.8 666.9 279.9C668.2 280.0 669.5 280.0 670.9 280.1C672.2 280.1 673.6 280.2 674.9 280.2C676.2 280.2 677.6 280.2 678.9 280.2C680.3 280.2 681.6 280.1 682.9 280.1C684.3 280.0 685.6 279.9 686.9 279.9C688.3 279.8 689.6 279.7 690.9 279.6C692.2 279.5 693.6 279.4 694.9 279.2C696.2 279.1 697.6 279.0 698.9 278.9C700.2 278.8 701.6 278.6 702.9 278.5C704.2 278.4 705.6 278.3 706.9 278.2C708.3 278.0 709.6 277.9 710.9 277.8C712.3 277.6 713.6 277.5 714.9 277.4C716.3 277.3 717.6 277.1 718.9 277.0C720.3 276.9 721.6 276.7 723.0 276.6C724.3 276.4 725.6 276.3 727.0 276.1C728.3 276.0 729.6 275.8 731.0 275.7C732.3 275.5 733.6 275.4 735.0 275.2C736.3 275.1 737.6 274.9 739.0 274.7C740.3 274.5 741.6 274.4 743.0 274.2C744.3 274.0 745.6 273.8 747.0 273.6C748.3 273.4 749.6 273.3 750.9 273.0C752.3 272.8 753.6 272.6 754.9 272.4C756.2 272.2 757.6 272.0 758.9 271.8C760.2 271.5 761.5 271.3 762.8 271.1C764.2 270.8 765.5 270.6 766.8 270.3C768.1 270.1 769.4 269.8 770.7 269.5C772.0 269.3 773.3 269.0 774.6 268.7C776.0 268.4 777.3 268.1 778.6 267.8C779.9 267.5 781.2 267.2 782.5 266.9C783.7 266.6 785.0 266.2 786.3 265.9C787.6 265.5 788.9 265.2 790.2 264.8C791.5 264.5 792.8 264.1 794.0 263.7C795.3 263.3 796.6 263.0 797.9 262.6C799.1 262.2 800.4 261.7 801.7 261.3C802.9 260.9 804.2 260.5 805.5 260.0C806.7 259.6 808.0 259.2 809.2 258.7C810.5 258.3 811.8 257.8 813.0 257.3C814.3 256.9 815.5 256.4 816.8 255.9C818.0 255.5 819.3 255.0 820.5 254.5C821.8 254.0 823.0 253.5 824.2 253.0C825.5 252.5 826.7 252.0 828.0 251.5C829.2 251.0 830.4 250.5 831.7 249.9C832.9 249.4 834.2 248.9 835.4 248.4C836.6 247.9 837.9 247.3 839.1 246.8C840.3 246.3 841.6 245.8 842.8 245.2C844.0 244.7 845.3 244.2 846.5 243.6C847.7 243.1 849.0 242.6 850.2 242.1C851.4 241.5 852.7 241.0 853.9 240.5C855.1 239.9 856.4 239.4 857.6 238.9C858.8 238.3 860.1 237.8 861.3 237.3C862.6 236.8 863.8 236.3 865.0 235.7C866.3 235.2 867.5 234.7 868.7 234.2C870.0 233.7 871.2 233.2 872.5 232.7C873.7 232.2 874.9 231.7 876.2 231.2C877.4 230.7 878.7 230.2 879.9 229.7C881.2 229.2 882.4 228.7 883.7 228.3C884.9 227.8 886.2 227.3 887.4 226.9C888.7 226.4 889.9 226.0 891.2 225.5C892.5 225.1 893.7 224.7 895.0 224.2C896.3 223.8 897.5 223.4 898.8 223.0C900.1 222.6 901.3 222.1 902.6 221.8C903.9 221.4 905.2 221.0 906.4 220.6C907.7 220.2 909.0 219.8 910.3 219.5C911.6 219.1 912.9 218.7 914.2 218.4C915.5 218.0 916.8 217.7 918.1 217.3C919.4 217.0 920.7 216.7 922.0 216.4C923.3 216.0 924.6 215.7 925.9 215.4C927.2 215.1 928.5 214.8 929.9 214.5C931.2 214.2 932.5 213.9 933.8 213.7C935.2 213.4 936.5 213.1 937.8 212.9C939.2 212.6 940.5 212.3 941.9 212.1C943.2 211.9 944.5 211.7 945.9 211.5C947.2 211.3 948.6 211.2 949.9 211.1C951.2 211.0 952.6 210.9 953.9 210.9C955.2 210.9 956.5 210.9 957.8 211.0C959.1 211.0 960.4 211.1 961.7 211.3C963.0 211.5 964.3 211.7 965.6 212.0C966.9 212.2 968.1 212.5 969.4 212.8C970.7 213.2 971.9 213.6 973.1 214.0C974.4 214.4 975.6 214.8 976.8 215.3C978.1 215.8 979.3 216.3 980.5 216.9C981.7 217.4 982.9 218.0 984.1 218.6C985.3 219.2 986.5 219.8 987.7 220.5C988.8 221.1 990.0 221.8 991.2 222.5C992.3 223.2 993.5 223.9 994.6 224.7C995.8 225.4 996.9 226.2 998.0 227.0C999.1 227.7 1000.2 228.5 1001.3 229.3C1002.5 230.2 1003.6 231.0 1004.6 231.8C1005.7 232.6 1006.8 233.5 1007.9 234.3C1008.9 235.2 1010.0 236.0 1011.1 236.9C1012.1 237.7 1013.2 238.6 1014.2 239.5C1015.2 240.3 1016.3 241.2 1017.3 242.1C1018.3 243.0 1019.3 243.9 1020.4 244.8C1021.4 245.6 1022.4 246.5 1023.4 247.4C1024.4 248.3 1025.4 249.2 1026.4 250.2C1027.4 251.1 1028.4 252.0 1029.3 252.9C1030.3 253.8 1031.3 254.7 1032.3 255.6C1033.3 256.5 1034.3 257.4 1035.2 258.4C1036.2 259.3 1037.2 260.2 1038.2 261.1C1039.2 262.0 1040.1 262.9 1041.1 263.8C1042.1 264.7 1043.1 265.7 1044.0 266.6C1045.0 267.5 1046.0 268.4 1047.0 269.3C1048.0 270.2 1049.0 271.1 1049.9 272.0C1050.9 272.9 1051.9 273.8 1052.9 274.7C1053.9 275.6 1054.9 276.5 1055.9 277.3C1056.9 278.2 1057.9 279.1 1058.9 280.0C1059.9 280.9 1060.9 281.7 1061.9 282.6C1063.0 283.5 1064.0 284.3 1065.0 285.2C1066.0 286.0 1067.1 286.9 1068.1 287.7C1069.1 288.6 1070.1 289.4 1071.2 290.3C1072.2 291.1 1073.3 291.9 1074.3 292.8C1075.3 293.6 1076.4 294.4 1077.4 295.3C1078.5 296.1 1079.5 296.9 1080.6 297.7C1081.7 298.5 1082.7 299.3 1083.8 300.2C1084.8 301.0 1085.9 301.8 1087.0 302.6C1088.0 303.4 1089.1 304.2 1090.2 305.0C1091.3 305.7 1092.3 306.5 1093.4 307.3C1094.5 308.1 1095.6 308.9 1096.7 309.7C1097.8 310.4 1098.8 311.2 1099.9 312.0C1101.0 312.8 1102.1 313.5 1103.2 314.3C1104.3 315.0 1105.4 315.8 1106.5 316.6C1107.6 317.3 1108.7 318.1 1109.8 318.8C1111.0 319.6 1112.1 320.3 1113.2 321.0C1114.3 321.8 1115.4 322.5 1116.5 323.3C1117.6 324.0 1118.8 324.7 1119.9 325.5C1121.0 326.2 1122.1 326.9 1123.3 327.6C1124.4 328.3 1125.5 329.1 1126.7 329.8C1127.8 330.5 1128.9 331.2 1130.1 331.9C1131.2 332.6 1132.3 333.3 1133.5 334.0C1134.6 334.7 1135.8 335.4 1136.9 336.1C1138.1 336.8 1139.2 337.5 1140.4 338.2C1141.5 338.9 1142.7 339.6 1143.8 340.2C1145.0 340.9 1146.1 341.6 1147.3 342.3C1148.5 342.9 1149.6 343.6 1150.8 344.3C1152.0 345.0 1153.1 345.6 1154.3 346.3C1155.5 346.9 1156.6 347.6 1157.8 348.3C1159.0 348.9 1160.1 349.6 1161.3 350.2C1162.5 350.9 1163.7 351.5 1164.8 352.2C1166.0 352.8 1167.2 353.5 1168.4 354.1C1169.6 354.7 1170.7 355.4 1171.9 356.0C1173.1 356.6 1174.3 357.3 1175.5 357.9C1176.7 358.5 1177.9 359.2 1179.0 359.8C1180.2 360.4 1181.4 361.0 1182.6 361.6C1183.8 362.3 1185.0 362.9 1186.2 363.5C1187.4 364.1 1188.6 364.7 1189.8 365.3C1191.0 365.9 1192.2 366.5 1193.4 367.1C1194.6 367.7 1195.8 368.3 1197.0 368.9C1198.2 369.5 1199.4 370.1 1200.6 370.7C1201.8 371.3 1203.0 371.9 1204.2 372.5C1205.4 373.1 1206.6 373.7 1207.8 374.2C1209.0 374.8 1210.3 375.4 1211.5 376.0C1212.7 376.6 1213.9 377.1 1215.1 377.7C1216.3 378.3 1217.5 378.9 1218.7 379.4C1220.0 380.0 1221.2 380.6 1222.4 381.1C1223.6 381.7 1224.8 382.3 1226.0 382.8C1227.2 383.4 1228.5 384.0 1229.7 384.5C1230.9 385.1 1232.1 385.6 1233.3 386.2C1234.6 386.7 1235.8 387.3 1237.0 387.8C1238.2 388.4 1239.4 388.9 1240.7 389.5C1241.9 390.0 1243.1 390.5 1244.3 391.1C1245.6 391.6 1246.8 392.1 1248.0 392.7C1249.2 393.2 1250.5 393.7 1251.7 394.3C1252.9 394.8 1254.1 395.3 1255.4 395.8C1256.6 396.4 1257.8 396.9 1259.1 397.4C1260.3 397.9 1261.5 398.4 1262.8 398.9C1264.0 399.5 1265.2 400.0 1266.5 400.5C1267.7 401.0 1269.0 401.5 1270.2 402.0C1271.4 402.5 1272.7 403.0 1273.9 403.5C1275.2 404.0 1276.4 404.5 1277.6 404.9C1278.9 405.4 1280.1 405.9 1281.4 406.4C1282.6 406.9 1283.9 407.4 1285.1 407.8C1286.4 408.3 1287.6 408.8 1288.9 409.3C1290.1 409.7 1291.4 410.2 1292.6 410.7C1293.9 411.1 1295.1 411.6 1296.4 412.0C1297.7 412.5 1298.9 413.0 1300.2 413.4C1301.4 413.9 1302.7 414.3 1304.0 414.7C1305.2 415.2 1306.5 415.6 1307.7 416.1C1309.0 416.5 1310.3 416.9 1311.5 417.4C1312.8 417.8 1314.1 418.2 1315.3 418.7C1316.6 419.1 1317.9 419.5 1319.2 419.9C1320.4 420.3 1321.7 420.7 1323.0 421.2C1324.3 421.6 1325.5 422.0 1326.8 422.4C1328.1 422.8 1329.4 423.2 1330.7 423.6C1332.0 424.0 1333.2 424.4 1334.5 424.8C1335.8 425.1 1337.1 425.5 1338.4 425.9C1339.7 426.3 1341.0 426.7 1342.3 427.0C1343.6 427.4 1344.9 427.8 1346.2 428.2C1347.5 428.5 1348.8 428.9 1350.1 429.2" stroke="#55a868"/>
<path d="M333.5 437.0C334.3 435.9 335.2 434.9 336.0 433.8C336.8 432.8 337.7 431.7 338.5 430.6C339.3 429.6 340.1 428.5 340.9 427.4C341.7 426.4 342.6 425.3 343.4 424.2C344.2 423.1 345.0 422.1 345.8 421.0C346.6 419.9 347.4 418.8 348.2 417.8C349.0 416.7 349.8 415.6 350.6 414.5C351.4 413.5 352.2 412.4 353.0 411.3C353.8 410.2 354.6 409.2 355.4 408.1C356.2 407.0 357.1 406.0 357.9 404.9C358.7 403.9 359.5 402.8 360.4 401.8C361.2 400.7 362.1 399.7 362.9 398.6C363.8 397.6 364.6 396.6 365.5 395.5C366.4 394.5 367.3 393.5 368.2 392.5C369.1 391.5 370.0 390.5 370.9 389.4C371.8 388.4 372.7 387.4 373.6 386.4C374.6 385.4 375.5 384.4 376.4 383.4C377.3 382.4 378.2 381.4 379.1 380.4C380.0 379.4 380.9 378.4 381.8 377.4C382.7 376.4 383.6 375.3 384.5 374.3C385.3 373.3 386.2 372.2 387.0 371.2C387.8 370.1 388.6 369.1 389.4 368.0C390.2 366.9 391.0 365.8 391.7 364.7C392.5 363.6 393.2 362.4 393.9 361.3C394.5 360.2 395.2 359.0 395.8 357.8C396.5 356.7 397.1 355.5 397.7 354.3C398.3 353.1 398.9 351.9 399.5 350.7C400.0 349.4 400.6 348.2 401.1 347.0C401.6 345.7 402.1 344.5 402.6 343.2C403.1 342.0 403.6 340.7 404.1 339.4C404.5 338.2 405.0 336.9 405.4 335.6C405.9 334.3 406.3 333.1 406.7 331.8C407.2 330.5 407.6 329.2 408.0 327.9C408.4 326.6 408.8 325.3 409.2 324.0C409.6 322.7 409.9 321.4 410.3 320.1C410.7 318.8 411.1 317.5 411.5 316.2C411.8 314.9 412.2 313.6 412.6 312.3C412.9 311.0 413.3 309.7 413.7 308.4C414.1 307.1 414.4 305.8 414.8 304.5C415.2 303.2 415.6 302.0 415.9 300.7C416.3 299.4 416.7 298.1 417.1 296.9C417.5 295.6 417.8 294.3 418.2 293.1C418.6 291.8 419.0 290.5 419.4 289.3C419.8 288.0 420.2 286.8 420.6 285.5C421.0 284.2 421.4 283.0 421.8 281.7C422.2 280.5 422.6 279.2 423.0 278.0C423.4 276.7 423.8 275.4 424.2 274.2C424.6 272.9 425.0 271.7 425.4 270.4C425.8 269.1 426.2 267.9 426.6 266.6C427.0 265.3 427.4 264.1 427.9 262.8C428.3 261.5 428.7 260.2 429.1 259.0C429.5 257.7 429.9 256.4 430.3 255.1C430.8 253.8 431.2 252.5 431.6 251.2C432.0 249.9 432.4 248.6 432.9 247.3C433.3 246.0 433.7 244.7 434.1 243.4C434.6 242.1 435.0 240.7 435.4 239.4C435.8 238.1 436.3 236.7 436.7 235.4C437.1 234.0 437.5 232.7 438.0 231.3C438.4 229.9 438.8 228.6 439.3 227.2C439.7 225.8 440.2 224.5 440.7 223.2C441.2 221.9 441.7 220.5 442.3 219.3C442.8 218.0 443.4 216.8 444.1 215.7C444.8 214.5 445.5 213.4 446.2 212.4C447.0 211.3 447.8 210.4 448.8 209.5C449.7 208.6 450.7 207.8 451.7 207.2C452.8 206.5 453.9 205.9 455.1 205.6C456.3 205.2 457.5 205.0 458.7 205.1C459.9 205.1 461.1 205.4 462.3 205.9C463.5 206.3 464.7 207.0 465.9 207.7C467.1 208.4 468.2 209.4 469.3 210.3C470.5 211.2 471.5 212.3 472.6 213.3C473.6 214.4 474.6 215.5 475.6 216.6C476.5 217.7 477.4 218.8 478.3 219.9C479.1 221.0 480.0 222.1 480.8 223.2C481.6 224.3 482.4 225.4 483.3 226.4C484.1 227.5 484.8 228.6 485.7 229.7C486.5 230.7 487.3 231.8 488.1 232.8C488.9 233.8 489.8 234.8 490.6 235.8C491.5 236.8 492.4 237.8 493.4 238.7C494.3 239.6 495.3 240.5 496.3 241.3C497.4 242.2 498.5 243.0 499.6 243.8C500.8 244.5 502.0 245.2 503.2 245.7C504.4 246.2 505.7 246.6 507.0 246.8C508.2 247.0 509.6 246.9 510.8 246.8C512.2 246.7 513.5 246.3 514.8 245.9C516.1 245.5 517.4 245.0 518.7 244.5C520.0 244.0 521.3 243.4 522.6 242.9C523.9 242.3 525.2 241.8 526.4 241.2C527.7 240.7 528.9 240.1 530.2 239.6C531.4 239.0 532.6 238.5 533.8 237.9C535.0 237.3 536.2 236.7 537.4 236.1C538.6 235.5 539.8 234.8 540.9 234.2C542.0 233.5 543.2 232.8 544.3 232.1C545.4 231.4 546.5 230.6 547.6 229.8C548.6 229.1 549.7 228.3 550.8 227.4C551.8 226.6 552.8 225.7 553.9 224.9C554.9 224.0 555.9 223.1 556.9 222.2C557.9 221.3 558.9 220.4 559.9 219.4C560.9 218.5 561.9 217.6 562.9 216.6C563.8 215.7 564.8 214.7 565.8 213.8C566.8 212.8 567.8 211.9 568.7 210.9C569.7 210.0 570.7 209.0 571.7 208.1C572.7 207.1 573.6 206.2 574.6 205.2C575.6 204.3 576.6 203.4 577.6 202.5C578.6 201.6 579.6 200.7 580.7 199.9C581.7 199.0 582.7 198.2 583.8 197.3C584.8 196.5 585.9 195.7 587.0 195.0C588.1 194.2 589.1 193.5 590.3 192.8C591.4 192.1 592.5 191.4 593.6 190.8C594.8 190.1 596.0 189.5 597.2 189.0C598.3 188.4 599.6 187.8 600.8 187.3C602.0 186.8 603.3 186.4 604.6 185.9C605.9 185.5 607.2 185.0 608.5 184.6C609.8 184.2 611.2 183.9 612.6 183.5C613.9 183.2 615.3 182.9 616.7 182.6C618.1 182.4 619.5 182.2 620.9 182.1C622.3 182.0 623.6 181.9 625.0 182.0C626.3 182.1 627.5 182.4 628.8 182.7C630.0 183.0 631.2 183.5 632.4 184.0C633.5 184.6 634.6 185.2 635.7 185.9C636.8 186.6 637.8 187.4 638.8 188.3C639.8 189.2 640.8 190.1 641.7 191.1C642.7 192.1 643.6 193.1 644.5 194.2C645.3 195.3 646.2 196.4 647.0 197.5C647.9 198.7 648.7 199.8 649.4 201.0C650.2 202.1 651.0 203.3 651.7 204.5C652.5 205.7 653.2 206.8 653.9 208.0C654.6 209.2 655.3 210.3 656.0 211.5C656.7 212.7 657.4 213.8 658.0 215.0C658.7 216.1 659.3 217.3 660.0 218.4C660.6 219.6 661.3 220.7 661.9 221.9C662.6 223.0 663.2 224.2 663.8 225.4C664.5 226.5 665.1 227.7 665.8 228.8C666.4 230.0 667.1 231.2 667.7 232.3C668.3 233.5 669.0 234.7 669.6 235.8C670.3 237.0 670.9 238.2 671.6 239.3C672.2 240.5 672.9 241.7 673.5 242.8C674.2 244.0 674.9 245.2 675.5 246.4C676.2 247.5 676.8 248.7 677.5 249.9C678.2 251.0 678.8 252.2 679.5 253.4C680.2 254.5 680.8 255.7 681.5 256.9C682.2 258.0 682.9 259.2 683.6 260.4C684.2 261.5 684.9 262.7 685.6 263.9C686.3 265.0 687.0 266.2 687.7 267.3C688.4 268.5 689.1 269.7 689.8 270.8C690.5 272.0 691.2 273.1 691.9 274.3C692.6 275.4 693.3 276.6 694.0 277.7C694.8 278.8 695.5 280.0 696.2 281.1C696.9 282.2 697.7 283.4 698.4 284.5C699.2 285.6 699.9 286.8 700.6 287.9C701.4 289.0 702.1 290.1 702.9 291.2C703.6 292.4 704.4 293.5 705.2 294.6C705.9 295.7 706.7 296.8 707.5 297.9C708.3 299.0 709.0 300.1 709.8 301.2C710.6 302.3 711.4 303.3 712.2 304.4C713.0 305.5 713.8 306.6 714.6 307.6C715.4 308.7 716.3 309.8 717.1 310.8C717.9 311.9 718.7 312.9 719.6 314.0C720.4 315.0 721.3 316.1 722.1 317.1C722.9 318.2 723.8 319.2 724.7 320.2C725.5 321.2 726.4 322.3 727.3 323.3C728.1 324.3 729.0 325.3 729.9 326.3C730.8 327.3 731.7 328.3 732.6 329.3C733.5 330.3 734.4 331.2 735.3 332.2C736.3 333.2 737.2 334.2 738.1 335.1C739.1 336.1 740.0 337.0 741.0 338.0C741.9 338.9 742.9 339.9 743.8 340.8C744.8 341.7 745.8 342.6 746.8 343.6C747.7 344.5 748.7 345.4 749.7 346.3C750.7 347.2 751.7 348.1 752.7 348.9C753.8 349.8 754.8 350.7 755.8 351.6C756.8 352.5 757.9 353.3 758.9 354.2C759.9 355.0 761.0 355.9 762.0 356.8C763.1 357.6 764.1 358.5 765.2 359.3C766.2 360.1 767.3 361.0 768.3 361.8C769.4 362.6 770.5 363.5 771.5 364.3C772.6 365.1 773.7 366.0 774.7 366.8C775.8 367.6 776.9 368.4 777.9 369.2C779.0 370.1 780.1 370.9 781.1 371.7C782.2 372.5 783.3 373.3 784.4 374.2C785.4 375.0 786.5 375.8 787.6 376.6C788.6 377.4 789.7 378.2 790.8 379.0C791.9 379.8 792.9 380.6 794.0 381.4C795.1 382.2 796.2 383.0 797.3 383.8C798.3 384.6 799.4 385.4 800.5 386.2C801.6 387.0 802.7 387.8 803.8 388.6C804.9 389.3 806.0 390.1 807.1 390.9C808.2 391.6 809.3 392.4 810.4 393.1C811.5 393.9 812.6 394.6 813.7 395.4C814.8 396.1 815.9 396.9 817.1 397.6C818.2 398.3 819.3 399.0 820.5 399.7C821.6 400.4 822.7 401.1 823.9 401.8C825.0 402.5 826.2 403.2 827.4 403.9C828.5 404.6 829.7 405.2 830.8 405.9C832.0 406.6 833.2 407.2 834.4 407.9C835.5 408.6 836.7 409.2 837.9 409.9C839.1 410.5 840.3 411.1 841.4 411.8C842.6 412.4 843.8 413.0 845.0 413.7C846.2 414.3 847.4 414.9 848.6 415.5C849.8 416.2 851.0 416.8 852.2 417.4C853.4 418.0 854.6 418.6 855.8 419.2C857.0 419.8 858.2 420.4 859.4 421.0C860.6 421.6 861.8 422.2 863.0 422.8C864.3 423.4 865.5 424.0 866.7 424.6C867.9 425.2 869.1 425.8 870.3 426.4C871.5 427.0 872.7 427.6 873.9 428.2C875.1 428.7 876.3 429.3 877.5 429.9C878.8 430.5 880.0 431.1 881.2 431.7C882.4 432.3 883.6 432.9 884.8 433.5C886.0 434.1 887.2 434.6 888.4 435.2C889.6 435.8 890.8 436.4 892.0 437.0" stroke="#c44e52"/>
<path d="M141.2 400.0C141.2 399.0 141.2 398.0 141.3 397.0C141.4 396.0 141.4 395.0 141.5 393.9C141.6 392.9 141.7 392.0 141.8 391.0C141.9 390.0 142.0 389.0 142.1 388.0C142.2 387.0 142.3 386.0 142.4 385.0C142.5 384.0 142.6 383.0 142.7 382.0C142.8 381.0 142.9 380.0 143.0 378.9C143.1 377.9 143.2 376.9 143.3 375.9C143.4 374.9 143.4 373.8 143.5 372.8C143.6 371.7 143.6 370.7 143.7 369.7C143.7 368.6 143.8 367.6 143.9 366.6C144.0 365.6 144.2 364.6 144.4 363.6C144.7 362.7 145.0 361.8 145.4 360.9C145.8 360.0 146.3 359.2 146.8 358.4C147.3 357.6 147.9 356.9 148.5 356.2C149.1 355.4 149.8 354.7 150.5 354.1C151.2 353.4 151.9 352.7 152.7 352.1C153.4 351.4 154.2 350.8 155.0 350.2C155.8 349.6 156.6 349.0 157.4 348.4C158.3 347.8 159.1 347.2 160.0 346.6C160.8 346.0 161.7 345.4 162.5 344.8C163.4 344.3 164.3 343.7 165.1 343.1C165.9 342.5 166.8 341.9 167.6 341.3C168.4 340.6 169.2 340.0 170.0 339.4C170.8 338.7 171.6 338.0 172.3 337.4C173.1 336.7 173.8 336.0 174.5 335.3C175.2 334.6 176.0 333.9 176.7 333.2C177.3 332.5 178.0 331.7 178.7 331.0C179.4 330.3 180.1 329.5 180.8 328.8C181.4 328.1 182.1 327.3 182.8 326.6C183.5 325.8 184.1 325.1 184.8 324.3C185.5 323.6 186.1 322.8 186.8 322.1C187.5 321.3 188.2 320.6 188.8 319.8C189.5 319.1 190.1 318.3 190.8 317.6C191.5 316.8 192.1 316.1 192.8 315.3C193.5 314.5 194.1 313.8 194.8 313.0C195.5 312.2 196.1 311.5 196.8 310.7C197.4 310.0 198.1 309.2 198.7 308.4C199.4 307.7 200.1 306.9 200.7 306.1C201.4 305.4 202.0 304.6 202.7 303.8C203.4 303.1 204.0 302.3 204.7 301.5C205.3 300.8 206.0 300.0 206.6 299.2C207.3 298.5 207.9 297.7 208.6 296.9C209.2 296.1 209.9 295.4 210.5 294.6C211.2 293.8 211.8 293.0 212.5 292.3C213.1 291.5 213.7 290.7 214.4 289.9C215.0 289.1 215.6 288.4 216.3 287.6C216.9 286.8 217.5 286.0 218.1 285.2C218.7 284.4 219.3 283.6 219.9 282.8C220.5 282.0 221.1 281.2 221.7 280.4C222.3 279.5 222.9 278.7 223.5 277.9C224.1 277.1 224.6 276.3 225.2 275.4C225.8 274.6 226.3 273.7 226.9 272.9C227.4 272.1 228.0 271.2 228.5 270.4C229.1 269.5 229.6 268.7 230.1 267.8C230.7 266.9 231.2 266.1 231.7 265.2C232.2 264.3 232.7 263.5 233.2 262.6C233.7 261.7 234.2 260.8 234.7 260.0C235.2 259.1 235.7 258.2 236.2 257.3C236.7 256.4 237.2 255.6 237.7 254.7C238.2 253.8 238.7 252.9 239.1 252.0C239.6 251.1 240.1 250.2 240.6 249.3C241.0 248.4 241.5 247.5 242.0 246.7C242.5 245.8 242.9 244.9 243.4 244.0C243.9 243.1 244.3 242.2 244.8 241.3C245.3 240.4 245.7 239.5 246.2 238.6C246.6 237.7 247.1 236.8 247.6 235.9C248.0 235.1 248.5 234.2 249.0 233.3C249.4 232.4 249.9 231.5 250.4 230.6C250.8 229.7 251.3 228.9 251.8 228.0C252.2 227.1 252.7 226.2 253.2 225.3C253.7 224.5 254.1 223.6 254.6 222.7C255.1 221.8 255.6 221.0 256.1 220.1C256.5 219.2 257.0 218.4 257.5 217.5C258.0 216.6 258.5 215.8 259.0 214.9C259.5 214.0 260.0 213.2 260.5 212.3C261.0 211.4 261.5 210.6 262.0 209.7C262.5 208.8 263.0 208.0 263.6 207.1C264.1 206.3 264.6 205.4 265.1 204.6C265.7 203.7 266.2 202.8 266.7 202.0C267.3 201.1 267.8 200.3 268.4 199.4C268.9 198.6 269.5 197.7 270.1 196.9C270.6 196.0 271.2 195.2 271.8 194.3C272.4 193.5 272.9 192.6 273.5 191.8C274.1 190.9 274.7 190.1 275.3 189.2C275.9 188.4 276.5 187.5 277.2 186.7C277.8 185.8 278.4 185.0 279.1 184.2C279.7 183.3 280.3 182.5 281.0 181.6C281.7 180.8 282.3 179.9 283.0 179.1C283.7 178.3 284.3 177.5 285.1 176.8C285.8 176.1 286.5 175.5 287.3 175.0C288.0 174.5 288.9 174.1 289.7 174.0C290.5 173.8 291.4 173.8 292.3 173.9C293.2 174.1 294.1 174.4 295.0 174.9C295.9 175.3 296.8 175.9 297.7 176.5C298.6 177.1 299.4 177.8 300.2 178.5C301.0 179.3 301.7 180.0 302.4 180.8C303.1 181.6 303.8 182.4 304.4 183.3C305.0 184.1 305.6 185.0 306.1 185.8C306.7 186.7 307.2 187.6 307.7 188.5C308.2 189.4 308.7 190.3 309.2 191.2C309.7 192.1 310.1 193.0 310.6 193.9C311.1 194.8 311.6 195.7 312.1 196.5C312.6 197.4 313.1 198.3 313.6 199.2C314.1 200.0 314.7 200.9 315.2 201.8C315.8 202.6 316.3 203.4 316.9 204.2C317.5 205.0 318.1 205.8 318.8 206.6C319.4 207.4 320.1 208.1 320.8 208.8C321.5 209.6 322.2 210.3 323.0 210.9C323.7 211.6 324.5 212.2 325.3 212.8C326.1 213.4 327.0 213.9 327.8 214.4C328.7 215.0 329.6 215.4 330.5 215.8C331.4 216.3 332.3 216.6 333.3 217.0C334.2 217.3 335.2 217.6 336.2 217.8C337.1 218.0 338.1 218.1 339.1 218.3C340.2 218.4 341.2 218.5 342.2 218.7C343.2 218.8 344.2 219.0 345.2 219.1C346.3 219.3 347.3 219.5 348.3 219.7C349.3 220.0 350.3 220.2 351.3 220.4C352.2 220.7 353.2 220.9 354.2 221.2C355.2 221.4 356.2 221.7 357.2 221.9C358.2 222.1 359.1 222.3 360.1 222.5C361.1 222.7 362.1 222.8 363.1 222.9C364.0 223.1 365.0 223.2 366.0 223.2C366.9 223.3 367.9 223.3 368.9 223.2C369.9 223.2 370.8 223.1 371.8 223.0C372.8 222.9 373.8 222.7 374.7 222.6C375.7 222.4 376.7 222.2 377.7 222.0C378.7 221.8 379.7 221.6 380.6 221.4C381.6 221.2 382.6 221.0 383.6 220.8C384.6 220.7 385.6 220.5 386.7 220.3C387.7 220.2 388.7 220.0 389.7 219.9C390.8 219.8 391.8 219.7 392.8 219.7C393.9 219.7 394.9 219.7 396.0 219.7C397.1 219.8 398.1 219.9 399.2 220.0C400.3 220.2 401.4 220.4 402.4 220.5C403.5 220.7 404.6 220.9 405.7 221.1C406.7 221.3 407.8 221.5 408.8 221.6C409.9 221.8 410.9 221.9 411.9 222.0C412.9 222.1 413.9 222.2 414.9 222.2C415.8 222.1 416.8 222.1 417.7 222.0C418.6 221.8 419.5 221.6 420.3 221.3C421.1 221.0 421.9 220.6 422.7 220.1C423.5 219.6 424.2 219.0 424.9 218.3C425.7 217.7 426.3 216.9 427.0 216.2C427.7 215.4 428.4 214.6 429.1 213.8C429.8 212.9 430.5 212.1 431.2 211.2C431.9 210.4 432.6 209.5 433.4 208.7C434.2 207.9 435.0 207.1 435.8 206.3C436.7 205.6 437.6 204.9 438.5 204.3C439.4 203.8 440.3 203.2 441.2 202.9C442.1 202.6 443.0 202.4 443.8 202.5C444.6 202.6 445.3 203.0 446.0 203.4C446.7 203.9 447.2 204.7 447.8 205.4C448.4 206.2 448.9 207.0 449.4 207.9C449.9 208.7 450.5 209.6 451.0 210.5C451.5 211.3 452.1 212.2 452.6 213.1C453.1 213.9 453.7 214.8 454.2 215.6C454.7 216.5 455.3 217.4 455.8 218.2C456.3 219.1 456.9 220.0 457.4 220.8C457.9 221.7 458.5 222.6 459.0 223.4C459.5 224.3 460.0 225.2 460.6 226.0C461.1 226.9 461.6 227.8 462.2 228.6C462.7 229.5 463.2 230.4 463.7 231.2C464.3 232.1 464.8 233.0 465.3 233.9C465.8 234.7 466.3 235.6 466.9 236.5C467.4 237.3 467.9 238.2 468.4 239.1C468.9 240.0 469.4 240.9 469.9 241.7C470.5 242.6 471.0 243.5 471.5 244.4C472.0 245.2 472.5 246.1 473.0 247.0C473.5 247.9 474.0 248.8 474.5 249.7C475.0 250.5 475.5 251.4 476.0 252.3C476.5 253.2 477.0 254.1 477.5 255.0C477.9 255.9 478.4 256.7 478.9 257.6C479.4 258.5 479.9 259.4 480.3 260.3C480.8 261.2 481.3 262.1 481.8 263.0C482.2 263.9 482.7 264.8 483.2 265.7C483.6 266.6 484.1 267.5 484.5 268.4C485.0 269.3 485.4 270.2 485.9 271.1C486.3 272.0 486.8 272.9 487.2 273.8C487.6 274.7 488.1 275.6 488.5 276.5C488.9 277.4 489.4 278.4 489.8 279.3C490.2 280.2 490.6 281.1 491.0 282.0C491.5 282.9 491.9 283.8 492.3 284.8C492.7 285.7 493.1 286.6 493.5 287.5C493.9 288.5 494.3 289.4 494.6 290.3C495.0 291.2 495.4 292.2 495.8 293.1C496.1 294.0 496.5 295.0 496.9 295.9C497.2 296.8 497.6 297.8 497.9 298.7C498.3 299.6 498.6 300.6 499.0 301.5C499.3 302.5 499.7 303.4 500.0 304.3C500.3 305.3 500.6 306.2 501.0 307.2C501.3 308.1 501.6 309.1 501.9 310.0C502.2 311.0 502.5 312.0 502.8 312.9C503.1 313.9 503.4 314.8 503.6 315.8C503.9 316.8 504.2 317.7 504.5 318.7C504.7 319.7 505.0 320.6 505.2 321.6C505.5 322.6 505.8 323.5 506.0 324.5C506.2 325.5 506.5 326.5 506.7 327.4C507.0 328.4 507.2 329.4 507.4 330.4C507.6 331.4 507.9 332.3 508.1 333.3C508.3 334.3 508.5 335.3 508.7 336.3C508.9 337.3 509.1 338.2 509.3 339.2C509.5 340.2 509.7 341.2 509.9 342.2C510.1 343.2 510.3 344.2 510.5 345.2C510.7 346.2 510.8 347.2 511.0 348.2C511.2 349.2 511.4 350.2 511.5 351.2C511.7 352.1 511.9 353.1 512.0 354.1C512.2 355.1 512.4 356.1 512.5 357.1C512.7 358.1 512.8 359.1 513.0 360.1C513.2 361.1 513.3 362.2 513.5 363.2C513.6 364.2 513.8 365.2 513.9 366.2C514.0 367.2 514.2 368.2 514.3 369.2C514.5 370.2 514.6 371.2 514.8 372.2C514.9 373.2 515.0 374.2 515.2 375.2C515.3 376.2 515.4 377.2 515.6 378.2C515.7 379.2 515.9 380.2 516.0 381.2C516.1 382.2 516.3 383.3 516.4 384.3C516.5 385.3 516.6 386.3 516.8 387.3C516.9 388.3 517.0 389.3 517.2 390.3C517.3 391.3 517.4 392.3 517.6 393.3C517.7 394.3 517.8 395.3 518.0 396.3C518.1 397.3 518.2 398.3 518.4 399.3C518.5 400.3 518.6 401.3 518.8 402.3C518.9 403.3 519.1 404.3 519.2 405.3C519.3 406.3 519.5 407.3 519.6 408.3C519.8 409.3 519.9 410.3 520.0 411.3C520.2 412.3 520.3 413.3 520.5 414.3C520.6 415.3 520.8 416.3 520.9 417.3C521.1 418.3 521.2 419.3 521.4 420.3C521.6 421.3 521.7 422.2 521.9 423.2C522.1 424.2 522.2 425.2 522.4 426.2C522.6 427.2 522.7 428.2 522.9 429.1C523.1 430.1 523.3 431.1 523.4 432.1C523.6 433.1 523.8 434.0 524.0 435.0C524.2 436.0 524.4 437.0 524.6 437.9" stroke="#8172b3"/>
</g>
<path d="M200.0 432.9 v8.7M258.8 432.9 v8.7M317.5 432.9 v8.7M376.3 432.9 v8.7M493.9 432.9 v8.7M552.7 432.9 v8.7M611.4 432.9 v8.7M670.2 432.9 v8.7M787.8 432.9 v8.7M846.6 432.9 v8.7M905.3 432.9 v8.7M964.1 432.9 v8.7M1081.7 432.9 v8.7M1140.5 432.9 v8.7M1199.2 432.9 v8.7M1258.0 432.9 v8.7M141.2 402.1 h-11.4M141.2 384.0 h-11.4M141.2 371.2 h-11.4M141.2 361.3 h-11.4M141.2 353.2 h-11.4M141.2 346.3 h-11.4M141.2 340.4 h-11.4M141.2 335.1 h-11.4M141.2 299.6 h-11.4M141.2 281.6 h-11.4M141.2 268.8 h-11.4M141.2 258.8 h-11.4M141.2 250.7 h-11.4M141.2 243.9 h-11.4M141.2 237.9 h-11.4M141.2 232.7 h-11.4M141.2 197.2 h-11.4M141.2 179.1 h-11.4M141.2 166.3 h-11.4M141.2 156.4 h-11.4M141.2 148.3 h-11.4M141.2 141.4 h-11.4M141.2 135.5 h-11.4M141.2 130.2 h-11.4M141.2 94.7 h-11.4M141.2 76.7 h-11.4M141.2 63.9 h-11.4M141.2 53.9 h-11.4M141.2 45.8 h-11.4M141.2 39.0 h-11.4M141.2 33.0 h-11.4M141.2 27.8 h-11.4" fill="none" stroke="#1c1c1c" stroke-width="2.4"/>
<path d="M141.2 432.9 v16.8M435.1 432.9 v16.8M729.0 432.9 v16.8M1022.9 432.9 v16.8M1316.8 432.9 v16.8M141.2 432.9 h-16.8M141.2 330.4 h-16.8M141.2 228.0 h-16.8M141.2 125.5 h-16.8M141.2 23.1 h-16.8" fill="none" stroke="#1c1c1c" stroke-width="3.8"/>
<rect x="141.2" y="23.3" width="1205" height="409.6" fill="none" stroke="#000" stroke-width="2.6"/>
<text class="tk" transform="translate(141.2 484.0) scale(1 1.05)" text-anchor="middle">0</text>
<text class="tk" transform="translate(435.1 484.0) scale(1 1.05)" text-anchor="middle">10</text>
<text class="tk" transform="translate(729.0 484.0) scale(1 1.05)" text-anchor="middle">20</text>
<text class="tk" transform="translate(1022.9 484.0) scale(1 1.05)" text-anchor="middle">30</text>
<text class="tk" transform="translate(1316.8 484.0) scale(1 1.05)" text-anchor="middle">40</text>
<text class="tk" transform="translate(63.9 451.2) scale(1 1.05)">10<tspan class="sup" dx="0.6" dy="-21.5">3</tspan></text>
<text class="tk" transform="translate(63.9 348.8) scale(1 1.05)">10<tspan class="sup" dx="0.6" dy="-21.5">4</tspan></text>
<text class="tk" transform="translate(63.9 246.3) scale(1 1.05)">10<tspan class="sup" dx="0.6" dy="-21.5">5</tspan></text>
<text class="tk" transform="translate(63.9 143.8) scale(1 1.05)">10<tspan class="sup" dx="0.6" dy="-21.5">6</tspan></text>
<text class="tk" transform="translate(63.9 41.4) scale(1 1.05)">10<tspan class="sup" dx="0.6" dy="-21.5">7</tspan></text>
<path d="M437.5 987.5 V558.8M734.1 987.5 V558.8M1030.7 987.5 V558.8M140.9 843.1 H1327.3M140.9 649.0 H1327.3" fill="none" stroke="#d1d1d1" stroke-width="2.4" stroke-dasharray="9.95 4.72"/>
<g clip-path="url(#cb)" fill="none" stroke-width="6.8" stroke-linejoin="round" stroke-linecap="butt">
<path d="M136.0 969.3C138.0 968.6 139.4 968.0 141.9 967.1C146.0 965.6 153.0 962.5 158.4 960.9C163.3 959.4 167.8 959.3 172.7 957.6C178.1 955.7 184.2 951.9 189.3 949.8C193.5 948.1 197.0 947.2 201.1 945.7C205.6 944.1 210.5 941.7 215.3 940.3C220.0 938.9 224.9 938.6 229.6 937.2C234.4 935.7 239.0 932.9 243.8 931.5C248.5 930.2 253.4 930.4 258.0 928.9C262.8 927.3 267.6 923.1 272.2 922.0C276.2 921.1 280.0 923.2 284.1 922.0C289.4 920.5 295.5 914.1 300.7 911.9C304.8 910.1 308.4 910.6 312.5 908.8C317.7 906.5 323.6 900.1 329.1 898.3C333.8 896.8 338.6 899.1 343.3 897.6C348.8 895.9 354.4 889.6 359.9 887.4C364.6 885.5 369.3 886.3 374.1 884.6C379.6 882.6 385.0 877.1 390.7 875.6C396.1 874.2 401.9 876.2 407.3 875.6C412.6 875.0 417.5 872.2 422.7 872.0C427.8 871.8 433.3 874.4 438.1 874.4C442.3 874.4 446.5 872.9 450.0 872.7C452.7 872.5 454.4 872.5 457.1 872.7C460.8 873.0 465.5 874.9 470.1 875.1C475.1 875.3 482.6 873.7 485.8 873.6C487.2 873.6 487.8 873.7 488.8 873.8C489.8 873.9 490.8 874.0 491.8 874.1C492.8 874.2 493.8 874.3 494.8 874.4C495.8 874.5 496.8 874.6 497.8 874.7C498.8 874.9 499.8 875.0 500.8 875.1C501.8 875.2 502.8 875.3 503.8 875.4C504.8 875.5 505.8 875.6 506.8 875.7C507.8 875.7 508.8 875.8 509.8 875.9C510.8 875.9 511.8 876.0 512.8 876.0C513.8 876.0 514.8 876.1 515.8 876.1C516.8 876.1 517.8 876.1 518.8 876.1C519.8 876.1 520.8 876.1 521.8 876.0C522.8 876.0 523.8 876.0 524.8 876.0C525.8 875.9 526.8 875.9 527.8 875.8C528.8 875.8 529.8 875.7 530.8 875.7C531.9 875.6 532.9 875.6 533.9 875.5C534.9 875.4 535.9 875.4 536.9 875.3C537.9 875.2 538.9 875.1 539.9 875.1C540.9 875.0 541.9 874.9 542.9 874.8C543.9 874.7 544.9 874.6 545.9 874.6C546.9 874.5 547.9 874.4 548.9 874.3C549.9 874.2 550.9 874.1 551.9 874.1C552.9 874.0 553.9 873.9 554.9 873.8C555.9 873.7 556.9 873.6 557.9 873.6C558.9 873.5 559.9 873.4 560.9 873.3C561.9 873.2 562.9 873.1 563.9 873.1C564.9 873.0 565.9 872.9 566.9 872.8C567.9 872.7 568.9 872.6 569.9 872.5C570.9 872.4 571.9 872.3 572.9 872.2C573.9 872.2 574.9 872.1 575.9 871.9C576.9 871.8 577.9 871.7 578.9 871.6C579.9 871.5 580.9 871.4 581.9 871.3C582.9 871.1 583.9 871.0 584.9 870.9C585.8 870.8 586.8 870.6 587.8 870.5C588.8 870.3 589.8 870.2 590.8 870.0C591.8 869.9 592.8 869.7 593.8 869.5C594.8 869.4 595.8 869.2 596.8 869.0C597.8 868.8 598.8 868.7 599.7 868.5C600.7 868.3 601.7 868.1 602.7 868.0C603.7 867.8 604.7 867.6 605.7 867.5C606.7 867.3 607.7 867.1 608.7 867.0C609.7 866.9 610.7 866.7 611.7 866.6C612.6 866.5 613.6 866.4 614.6 866.3C615.6 866.2 616.6 866.1 617.6 866.1C618.6 866.0 619.6 866.0 620.6 866.0C621.6 866.0 622.6 866.0 623.6 866.0C624.6 866.0 625.6 866.1 626.6 866.2C627.6 866.2 628.6 866.3 629.6 866.4C630.6 866.5 631.6 866.6 632.6 866.7C633.6 866.8 634.6 866.9 635.6 867.0C636.6 867.2 637.7 867.3 638.7 867.4C639.7 867.5 640.7 867.6 641.7 867.7C642.7 867.9 643.7 868.0 644.7 868.1C645.7 868.2 646.7 868.2 647.7 868.3C648.7 868.4 649.7 868.5 650.7 868.5C651.7 868.6 652.7 868.7 653.7 868.7C654.7 868.8 655.7 868.8 656.7 868.8C657.7 868.9 658.8 868.9 659.8 868.9C660.8 868.9 661.8 868.9 662.8 869.0C663.8 869.0 664.8 869.0 665.8 869.0C666.8 869.0 667.8 869.0 668.8 868.9C669.8 868.9 670.8 868.9 671.8 868.9C672.8 868.9 673.8 868.9 674.8 868.8C675.8 868.8 676.8 868.8 677.8 868.8C678.8 868.7 679.8 868.7 680.8 868.7C681.8 868.6 682.8 868.6 683.8 868.6C684.8 868.6 685.8 868.5 686.8 868.5C687.8 868.5 688.8 868.5 689.8 868.5C690.8 868.5 691.8 868.5 692.9 868.5C693.9 868.5 694.9 868.5 695.9 868.5C696.9 868.5 697.9 868.6 698.9 868.6C699.9 868.6 700.9 868.7 701.9 868.7C702.9 868.8 703.9 868.8 704.9 868.9C705.9 869.0 707.0 869.0 708.0 869.1C709.0 869.1 710.0 869.2 711.0 869.3C712.0 869.3 713.0 869.4 714.0 869.4C715.0 869.5 716.0 869.6 717.0 869.6C718.0 869.6 719.0 869.7 720.0 869.7C721.0 869.8 722.1 869.8 723.1 869.8C724.1 869.8 725.1 869.8 726.1 869.8C727.1 869.8 728.1 869.8 729.1 869.7C730.1 869.7 731.0 869.7 732.0 869.6C733.0 869.5 734.0 869.5 735.0 869.4C736.0 869.3 737.0 869.2 738.0 869.1C739.0 869.0 740.0 868.9 741.0 868.8C742.0 868.6 743.0 868.5 743.9 868.4C744.9 868.2 745.9 868.1 746.9 868.0C747.9 867.8 748.9 867.6 749.9 867.5C750.9 867.3 751.9 867.2 752.8 867.0C753.8 866.8 754.8 866.7 755.8 866.5C756.8 866.3 757.8 866.1 758.8 865.9C759.8 865.8 760.8 865.6 761.7 865.4C762.7 865.2 763.7 865.0 764.7 864.9C765.7 864.7 766.7 864.5 767.7 864.3C768.7 864.2 769.7 864.0 770.7 863.8C771.7 863.6 772.7 863.5 773.7 863.3C774.7 863.1 775.7 863.0 776.7 862.8C777.7 862.6 778.7 862.5 779.7 862.3C780.7 862.2 781.7 862.0 782.7 861.8C783.7 861.7 784.7 861.5 785.7 861.3C786.7 861.2 787.7 861.0 788.7 860.8C789.7 860.7 790.6 860.5 791.6 860.3C792.6 860.1 793.6 859.9 794.6 859.8C795.6 859.6 796.6 859.4 797.6 859.2C798.6 859.0 799.6 858.8 800.5 858.6C801.5 858.4 802.5 858.1 803.5 857.9C804.5 857.7 805.4 857.5 806.4 857.2C807.4 857.0 808.4 856.7 809.3 856.5C810.3 856.2 811.3 856.0 812.2 855.7C813.2 855.4 814.1 855.1 815.1 854.8C816.0 854.5 817.0 854.2 817.9 853.9C818.9 853.6 819.8 853.2 820.8 852.9C821.7 852.6 822.6 852.2 823.6 851.8C824.5 851.5 825.4 851.1 826.3 850.7C827.3 850.3 828.2 849.9 829.1 849.5C830.0 849.1 830.9 848.7 831.8 848.3C832.8 847.9 833.7 847.5 834.6 847.0C835.5 846.6 836.4 846.2 837.3 845.7C838.2 845.3 839.1 844.8 840.0 844.4C840.9 843.9 841.8 843.4 842.7 843.0C843.5 842.5 844.4 842.0 845.3 841.6C846.2 841.1 847.1 840.6 848.0 840.1C848.9 839.7 849.8 839.2 850.6 838.7C851.5 838.2 852.4 837.7 853.3 837.2C854.2 836.8 855.0 836.3 855.9 835.8C856.8 835.3 857.7 834.8 858.6 834.3C859.4 833.8 860.3 833.3 861.2 832.8C862.1 832.4 862.9 831.9 863.8 831.4C864.7 830.9 865.6 830.4 866.4 829.9C867.3 829.4 868.2 828.9 869.1 828.5C870.0 828.0 870.8 827.5 871.7 827.0C872.6 826.5 873.5 826.0 874.4 825.5C875.2 825.1 876.1 824.6 877.0 824.1C877.9 823.6 878.8 823.1 879.6 822.7C880.5 822.2 881.4 821.7 882.3 821.3C883.2 820.8 884.1 820.3 885.0 819.8C885.8 819.4 886.7 818.9 887.6 818.5C888.5 818.0 889.4 817.5 890.3 817.1C891.2 816.6 892.1 816.2 893.0 815.7C893.9 815.3 894.8 814.8 895.7 814.4C896.6 813.9 897.5 813.5 898.4 813.1C899.3 812.6 900.2 812.2 901.2 811.8C902.1 811.4 903.0 810.9 903.9 810.5C904.8 810.1 905.8 809.7 906.7 809.3C907.6 808.9 908.5 808.5 909.5 808.1C910.4 807.8 911.3 807.4 912.3 807.0C913.2 806.7 914.2 806.3 915.1 806.0C916.1 805.7 917.0 805.4 918.0 805.1C918.9 804.8 919.9 804.5 920.9 804.2C921.8 804.0 922.8 803.7 923.8 803.5C924.8 803.2 925.8 803.0 926.8 802.8C927.7 802.7 928.7 802.5 929.7 802.3C930.7 802.2 931.7 802.0 932.7 801.9C933.7 801.7 934.7 801.6 935.7 801.5C936.8 801.4 937.8 801.3 938.8 801.1C939.8 801.0 940.8 800.9 941.8 800.8C942.8 800.7 943.8 800.6 944.8 800.5C945.8 800.3 946.8 800.2 947.8 800.1C948.8 800.0 949.8 799.8 950.8 799.7C951.8 799.6 952.8 799.4 953.8 799.2C954.8 799.1 955.8 798.9 956.8 798.7C957.7 798.5 958.7 798.4 959.7 798.2C960.7 798.0 961.7 797.8 962.6 797.5C963.6 797.3 964.6 797.1 965.5 796.8C966.5 796.6 967.4 796.3 968.4 796.1C969.4 795.8 970.3 795.5 971.3 795.2C972.2 795.0 973.1 794.7 974.1 794.3C975.0 794.0 976.0 793.7 976.9 793.4C977.8 793.0 978.7 792.7 979.7 792.3C980.6 791.9 981.5 791.5 982.4 791.1C983.3 790.8 984.2 790.3 985.1 789.9C986.0 789.5 986.9 789.0 987.8 788.6C988.7 788.1 989.6 787.7 990.5 787.2C991.3 786.7 992.2 786.2 993.1 785.7C994.0 785.1 994.8 784.6 995.7 784.1C996.5 783.5 997.4 783.0 998.2 782.4C999.1 781.8 999.9 781.2 1000.7 780.6C1001.5 780.0 1002.4 779.4 1003.2 778.8C1004.0 778.2 1004.8 777.6 1005.6 776.9C1006.4 776.3 1007.2 775.6 1008.0 775.0C1008.7 774.3 1009.5 773.6 1010.3 772.9C1011.0 772.3 1011.8 771.6 1012.5 770.9C1013.3 770.2 1014.0 769.5 1014.7 768.8C1015.5 768.0 1016.2 767.3 1016.9 766.6C1017.6 765.9 1018.3 765.1 1019.0 764.4C1019.6 763.6 1020.3 762.9 1021.0 762.1C1021.6 761.4 1022.3 760.6 1022.9 759.9C1023.6 759.1 1024.2 758.3 1024.9 757.5C1025.5 756.8 1026.1 756.0 1026.7 755.2C1027.3 754.4 1027.9 753.6 1028.5 752.8C1029.1 752.0 1029.7 751.2 1030.3 750.4C1030.8 749.6 1031.4 748.7 1032.0 747.9C1032.5 747.1 1033.1 746.3 1033.6 745.4C1034.2 744.6 1034.7 743.8 1035.3 742.9C1035.8 742.1 1036.3 741.2 1036.8 740.4C1037.4 739.5 1037.9 738.7 1038.4 737.8C1038.9 737.0 1039.4 736.1 1039.9 735.2C1040.4 734.4 1040.8 733.5 1041.3 732.6C1041.8 731.7 1042.3 730.9 1042.8 730.0C1043.2 729.1 1043.7 728.2 1044.2 727.3C1044.6 726.4 1045.1 725.6 1045.5 724.7C1046.0 723.8 1046.4 722.9 1046.9 722.0C1047.3 721.1 1047.8 720.2 1048.2 719.3C1048.6 718.4 1049.1 717.5 1049.5 716.6C1049.9 715.6 1050.3 714.7 1050.8 713.8C1051.2 712.9 1051.6 712.0 1052.0 711.1C1052.4 710.2 1052.9 709.3 1053.3 708.3C1053.7 707.4 1054.1 706.5 1054.5 705.6C1054.9 704.6 1055.3 703.7 1055.7 702.8C1056.1 701.9 1056.5 701.0 1056.9 700.0C1057.3 699.1 1057.7 698.2 1058.1 697.3C1058.5 696.3 1058.9 695.4 1059.3 694.5C1059.7 693.5 1060.1 692.6 1060.5 691.7C1060.9 690.8 1061.3 689.8 1061.7 688.9C1062.1 688.0 1062.4 687.0 1062.8 686.1C1063.2 685.2 1063.6 684.3 1064.0 683.3C1064.4 682.4 1064.8 681.5 1065.2 680.6C1065.6 679.6 1066.0 678.7 1066.4 677.8C1066.8 676.9 1067.2 675.9 1067.6 675.0C1068.0 674.1 1068.4 673.2 1068.8 672.3C1069.2 671.3 1069.6 670.4 1070.0 669.5C1070.4 668.6 1070.8 667.7 1071.2 666.8C1071.6 665.8 1072.0 664.9 1072.5 664.0C1072.9 663.1 1073.3 662.2 1073.7 661.3C1074.1 660.3 1074.5 659.4 1074.9 658.5C1075.3 657.6 1075.7 656.7 1076.1 655.8C1076.5 654.9 1076.9 653.9 1077.4 653.0C1077.8 652.1 1078.2 651.2 1078.6 650.3C1079.0 649.4 1079.4 648.5 1079.8 647.5C1080.2 646.6 1080.6 645.7 1081.0 644.8C1081.5 643.9 1081.9 643.0 1082.3 642.1C1082.7 641.1 1083.1 640.2 1083.5 639.3C1083.9 638.4 1084.3 637.5 1084.7 636.6C1085.1 635.7 1085.5 634.7 1086.0 633.8C1086.4 632.9 1086.8 632.0 1087.2 631.1C1087.6 630.2 1088.0 629.2 1088.4 628.3C1088.8 627.4 1089.3 626.5 1089.7 625.6C1090.1 624.7 1090.5 623.8 1090.9 622.9C1091.4 622.0 1091.8 621.0 1092.2 620.1C1092.7 619.2 1093.1 618.3 1093.6 617.4C1094.0 616.5 1094.5 615.6 1094.9 614.8C1095.4 613.9 1095.9 613.0 1096.3 612.1C1096.8 611.2 1097.3 610.3 1097.8 609.4C1098.3 608.6 1098.8 607.7 1099.3 606.8C1099.8 606.0 1100.3 605.1 1100.8 604.2C1101.3 603.4 1101.9 602.5 1102.4 601.7C1103.0 600.8 1103.5 600.0 1104.1 599.1C1104.7 598.3 1105.2 597.5 1105.8 596.7C1106.4 595.8 1107.0 595.0 1107.7 594.2C1108.3 593.4 1108.9 592.6 1109.6 591.8C1110.2 591.0 1110.9 590.2 1111.6 589.5C1112.2 588.7 1112.9 588.0 1113.6 587.3C1114.4 586.6 1115.1 585.9 1115.8 585.2C1116.6 584.6 1117.4 583.9 1118.2 583.4C1118.9 582.8 1119.8 582.2 1120.6 581.7C1121.4 581.2 1122.3 580.8 1123.2 580.4C1124.1 580.0 1125.0 579.6 1125.9 579.3C1126.8 579.0 1127.8 578.8 1128.8 578.6C1129.8 578.4 1130.8 578.3 1131.8 578.2C1132.8 578.1 1133.8 578.1 1134.9 578.1C1135.9 578.1 1137.0 578.2 1138.0 578.3C1139.0 578.4 1140.1 578.5 1141.1 578.6C1142.2 578.8 1143.2 579.0 1144.2 579.2C1145.2 579.3 1146.2 579.6 1147.2 579.8C1148.2 580.0 1149.2 580.3 1150.1 580.5C1151.1 580.8 1152.0 581.1 1152.9 581.4C1153.9 581.7 1154.8 582.0 1155.7 582.3C1156.6 582.6 1157.5 582.9 1158.5 583.3C1159.4 583.6 1160.3 584.0 1161.2 584.4C1162.1 584.7 1163.0 585.1 1163.9 585.5C1164.8 585.9 1165.7 586.3 1166.7 586.7C1167.6 587.1 1168.5 587.5 1169.4 588.0C1170.4 588.4 1171.3 588.8 1172.3 589.3C1173.2 589.7 1174.1 590.2 1175.0 590.7C1175.9 591.2 1176.9 591.7 1177.8 592.2C1178.6 592.7 1179.5 593.2 1180.4 593.8C1181.2 594.3 1182.1 594.9 1182.9 595.5C1183.7 596.1 1184.5 596.7 1185.2 597.4C1186.0 598.0 1186.7 598.7 1187.4 599.4C1188.1 600.1 1188.8 600.8 1189.5 601.5C1190.2 602.2 1190.8 603.0 1191.4 603.8C1192.0 604.5 1192.6 605.3 1193.2 606.1C1193.8 606.9 1194.4 607.7 1194.9 608.5C1195.5 609.4 1196.0 610.2 1196.5 611.0C1197.0 611.9 1197.5 612.7 1198.0 613.6C1198.5 614.5 1199.0 615.4 1199.5 616.3C1200.0 617.1 1200.4 618.0 1200.9 618.9C1201.3 619.8 1201.7 620.8 1202.2 621.7C1202.6 622.6 1203.0 623.5 1203.5 624.4C1203.9 625.3 1204.3 626.3 1204.7 627.2C1205.1 628.1 1205.5 629.0 1205.9 630.0C1206.3 630.9 1206.8 631.8 1207.2 632.8C1207.6 633.7 1208.0 634.6 1208.3 635.5C1208.7 636.5 1209.1 637.4 1209.5 638.3C1209.9 639.3 1210.3 640.2 1210.7 641.1C1211.1 642.1 1211.4 643.0 1211.8 643.9C1212.2 644.9 1212.6 645.8 1212.9 646.7C1213.3 647.7 1213.7 648.6 1214.1 649.5C1214.4 650.5 1214.8 651.4 1215.1 652.4C1215.5 653.3 1215.9 654.2 1216.2 655.2C1216.6 656.1 1216.9 657.1 1217.3 658.0C1217.6 658.9 1218.0 659.9 1218.3 660.8C1218.7 661.8 1219.0 662.7 1219.4 663.7C1219.7 664.6 1220.0 665.6 1220.4 666.5C1220.7 667.5 1221.1 668.4 1221.4 669.3C1221.7 670.3 1222.1 671.2 1222.4 672.2C1222.7 673.1 1223.0 674.1 1223.4 675.0C1223.7 676.0 1224.0 676.9 1224.3 677.9C1224.7 678.8 1225.0 679.8 1225.3 680.7C1225.6 681.7 1225.9 682.6 1226.2 683.6C1226.6 684.6 1226.9 685.5 1227.2 686.5C1227.5 687.4 1227.8 688.4 1228.1 689.3C1228.4 690.3 1228.7 691.2 1229.0 692.2C1229.3 693.1 1229.6 694.1 1229.9 695.1C1230.2 696.0 1230.5 697.0 1230.8 697.9C1231.1 698.9 1231.4 699.8 1231.7 700.8C1232.0 701.8 1232.3 702.7 1232.6 703.7C1232.9 704.6 1233.2 705.6 1233.4 706.6C1233.7 707.5 1234.0 708.5 1234.3 709.4C1234.6 710.4 1234.9 711.4 1235.2 712.3C1235.4 713.3 1235.7 714.3 1236.0 715.2C1236.3 716.2 1236.6 717.1 1236.8 718.1C1237.1 719.1 1237.4 720.0 1237.7 721.0C1237.9 722.0 1238.2 722.9 1238.5 723.9C1238.8 724.9 1239.0 725.8 1239.3 726.8C1239.6 727.8 1239.9 728.7 1240.1 729.7C1240.4 730.6 1240.7 731.6 1240.9 732.6C1241.2 733.5 1241.5 734.5 1241.7 735.5C1242.0 736.4 1242.3 737.4 1242.5 738.4C1242.8 739.3 1243.1 740.3 1243.3 741.3C1243.6 742.3 1243.9 743.2 1244.1 744.2C1244.4 745.2 1244.7 746.1 1244.9 747.1C1245.2 748.1 1245.5 749.0 1245.7 750.0C1246.0 751.0 1246.2 751.9 1246.5 752.9C1246.8 753.9 1247.0 754.8 1247.3 755.8C1247.6 756.8 1247.8 757.7 1248.1 758.7C1248.3 759.7 1248.6 760.7 1248.9 761.6C1249.1 762.6 1249.4 763.6 1249.6 764.5C1249.9 765.5 1250.2 766.5 1250.4 767.4C1250.7 768.4 1250.9 769.4 1251.2 770.4C1251.5 771.3 1251.7 772.3 1252.0 773.3C1252.2 774.2 1252.5 775.2 1252.8 776.2C1253.0 777.1 1253.3 778.1 1253.6 779.1C1253.8 780.1 1254.1 781.0 1254.3 782.0C1254.6 783.0 1254.9 783.9 1255.1 784.9C1255.4 785.9 1255.7 786.8 1255.9 787.8C1256.2 788.8 1256.5 789.7 1256.7 790.7C1257.0 791.7 1257.2 792.7 1257.5 793.6C1257.8 794.6 1258.0 795.6 1258.3 796.5C1258.6 797.5 1258.9 798.5 1259.1 799.4C1259.4 800.4 1259.7 801.4 1259.9 802.3C1260.2 803.3 1260.5 804.3 1260.7 805.2C1261.0 806.2 1261.3 807.2 1261.6 808.2C1261.8 809.1 1262.1 810.1 1262.4 811.1C1262.7 812.0 1262.9 813.0 1263.2 814.0C1263.5 814.9 1263.8 815.9 1264.1 816.9C1264.3 817.8 1264.6 818.8 1264.9 819.8C1265.2 820.7 1265.5 821.7 1265.7 822.7C1266.0 823.6 1266.3 824.6 1266.6 825.5C1266.9 826.5 1267.2 827.5 1267.5 828.4C1267.8 829.4 1268.1 830.4 1268.3 831.3C1268.6 832.3 1268.9 833.3 1269.2 834.2C1269.5 835.2 1269.8 836.1 1270.1 837.1C1270.4 838.1 1270.7 839.0 1271.0 840.0C1271.3 841.0 1271.6 841.9 1271.9 842.9C1272.2 843.8 1272.6 844.8 1272.9 845.7C1273.2 846.7 1273.5 847.7 1273.8 848.6C1274.1 849.6 1274.4 850.5 1274.7 851.5C1275.1 852.4 1275.4 853.4 1275.7 854.4C1276.0 855.3 1276.3 856.3 1276.7 857.2C1277.0 858.2 1277.3 859.1 1277.6 860.1C1278.0 861.0 1278.3 862.0 1278.6 862.9C1279.0 863.9 1279.3 864.8 1279.6 865.8C1280.0 866.7 1280.3 867.7 1280.7 868.6C1281.0 869.5 1281.4 870.5 1281.7 871.4C1282.0 872.4 1282.4 873.3 1282.7 874.3C1283.1 875.2 1283.5 876.1 1283.8 877.1C1284.2 878.0 1284.5 879.0 1284.9 879.9C1285.3 880.8 1285.6 881.8 1286.0 882.7C1286.4 883.6 1286.7 884.6 1287.1 885.5C1287.5 886.4 1287.9 887.4 1288.2 888.3C1288.6 889.2 1289.0 890.2 1289.4 891.1C1289.8 892.0 1290.2 892.9 1290.5 893.9C1290.9 894.8 1291.3 895.7 1291.7 896.6C1292.1 897.5 1292.5 898.5 1292.9 899.4C1293.3 900.3 1293.7 901.2 1294.1 902.1C1294.6 903.0 1295.0 904.0 1295.4 904.9C1295.8 905.8 1296.2 906.7 1296.6 907.6C1297.1 908.5 1297.5 909.4 1297.9 910.3C1298.3 911.2 1298.8 912.1 1299.2 913.0C1299.6 913.9 1300.1 914.8 1300.5 915.7C1301.0 916.6 1301.4 917.5 1301.9 918.4C1302.3 919.3 1302.8 920.2 1303.2 921.1C1303.7 922.0 1304.2 922.9 1304.6 923.8C1305.1 924.6 1305.6 925.5 1306.0 926.4C1306.5 927.3 1307.0 928.2 1307.5 929.1C1307.9 929.9 1308.4 930.8 1308.9 931.7C1309.4 932.6 1309.9 933.4 1310.4 934.3C1310.9 935.2 1311.4 936.0 1311.9 936.9C1312.4 937.8 1312.9 938.6 1313.4 939.5C1313.9 940.4 1314.4 941.2 1315.0 942.1C1315.5 942.9 1316.0 943.8 1316.5 944.6C1317.1 945.5 1317.6 946.4 1318.1 947.2C1318.7 948.0 1319.2 948.9 1319.8 949.7C1320.3 950.6 1320.9 951.4 1321.4 952.3C1322.0 953.1 1322.5 953.9 1323.1 954.8C1323.7 955.6 1324.3 956.4 1324.8 957.3C1325.4 958.1 1326.0 958.9 1326.6 959.7C1327.1 960.6 1327.7 961.4 1328.3 962.2C1328.9 963.0 1329.5 963.8 1330.1 964.7C1330.7 965.5 1331.3 966.3 1332.0 967.1" stroke="#728497"/>
</g>
<path d="M200.2 987.5 v8.7M259.5 987.5 v8.7M318.9 987.5 v8.7M378.2 987.5 v8.7M496.8 987.5 v8.7M556.1 987.5 v8.7M615.5 987.5 v8.7M674.8 987.5 v8.7M793.4 987.5 v8.7M852.7 987.5 v8.7M912.1 987.5 v8.7M971.4 987.5 v8.7M1090.0 987.5 v8.7M1149.3 987.5 v8.7M1208.7 987.5 v8.7M1268.0 987.5 v8.7M140.9 978.8 h-11.4M140.9 944.6 h-11.4M140.9 920.3 h-11.4M140.9 901.5 h-11.4M140.9 886.2 h-11.4M140.9 873.2 h-11.4M140.9 861.9 h-11.4M140.9 852.0 h-11.4M140.9 784.7 h-11.4M140.9 750.5 h-11.4M140.9 726.2 h-11.4M140.9 707.4 h-11.4M140.9 692.1 h-11.4M140.9 679.1 h-11.4M140.9 667.8 h-11.4M140.9 657.9 h-11.4M140.9 590.6 h-11.4" fill="none" stroke="#1c1c1c" stroke-width="2.4"/>
<path d="M140.9 987.5 v16.8M437.5 987.5 v16.8M734.1 987.5 v16.8M1030.7 987.5 v16.8M1327.3 987.5 v16.8M140.9 843.1 h-16.8M140.9 649.0 h-16.8" fill="none" stroke="#1c1c1c" stroke-width="3.8"/>
<rect x="140.9" y="558.8" width="1186.4" height="428.7" fill="none" stroke="#000" stroke-width="2.6"/>
<text class="tk" transform="translate(140.9 1037.8) scale(1 1.05)" text-anchor="middle">30</text>
<text class="tk" transform="translate(437.5 1037.8) scale(1 1.05)" text-anchor="middle">40</text>
<text class="tk" transform="translate(734.1 1037.8) scale(1 1.05)" text-anchor="middle">50</text>
<text class="tk" transform="translate(1030.7 1037.8) scale(1 1.05)" text-anchor="middle">60</text>
<text class="tk" transform="translate(1327.3 1037.8) scale(1 1.05)" text-anchor="middle">70</text>
<text class="tk" transform="translate(63.9 861.4) scale(1 1.05)">10<tspan class="sup" dx="0.6" dy="-21.5">4</tspan></text>
<text class="tk" transform="translate(63.9 667.3) scale(1 1.05)">10<tspan class="sup" dx="0.6" dy="-21.5">5</tspan></text>
<path d="M1099.2 58.7 H1155" stroke="#4c72b0" stroke-width="5.6" stroke-linecap="round" fill="none"/>
<text class="leg" x="1177.5" y="68.6">CNN FeO</text>
<path d="M1099.2 99.6 H1155" stroke="#dd8452" stroke-width="5.6" stroke-linecap="round" fill="none"/>
<text class="leg" x="1177.5" y="109.5">CNN TiO<tspan font-size="19.6px" dy="4.7">2</tspan></text>
<path d="M1099.2 140.4 H1155" stroke="#55a868" stroke-width="5.6" stroke-linecap="round" fill="none"/>
<text class="leg" x="1177.5" y="150.3">CNN Al<tspan font-size="19.6px" dy="4.7">2</tspan><tspan dy="-4.7">O</tspan><tspan font-size="19.6px" dy="4.7">3</tspan></text>
<path d="M1099.2 180.8 H1155" stroke="#c44e52" stroke-width="5.6" stroke-linecap="round" fill="none"/>
<text class="leg" x="1177.5" y="190.7">CNN CaO</text>
<path d="M1099.2 221.4 H1155" stroke="#8172b3" stroke-width="5.6" stroke-linecap="round" fill="none"/>
<text class="leg" x="1177.5" y="231.3">CNN MgO</text>
<text class="lab" x="746.5" y="520.5" text-anchor="middle">oxides (wt.%)</text>
<text class="lab" y="1077.1"><tspan x="657.5">Mg#</tspan><tspan x="736.2" font-weight="normal" stroke="#1a1a1a" stroke-width="0.5">(</tspan><tspan x="749.6" font-size="29.5px" dy="-0.6">×</tspan><tspan x="768.5" dy="0.6" font-weight="normal" stroke="#1a1a1a" stroke-width="0.5">10</tspan><tspan x="806.3" dy="-10.7" font-size="20px">-2</tspan><tspan x="826.3" dy="10.7" font-weight="normal" stroke="#1a1a1a" stroke-width="0.5">)</tspan></text>
<text class="lab" transform="translate(43.8 229.2) rotate(-90)" text-anchor="middle">Count (log scale)</text>
<text class="lab" transform="translate(43.8 773.5) rotate(-90)" text-anchor="middle">Count (log scale)</text>
<text class="pl" x="-1.2" y="33.2">(a)</text>
<text class="pl" x="-1.2" y="588">(b)</text>
<text x="740.9" y="629.6" font-size="43.5px" style="fill:#000" stroke="#000" stroke-width="1.5" stroke-linejoin="round" textLength="282.2" lengthAdjust="spacingAndGlyphs">modal of 63.4</text>
</svg></body></html>
